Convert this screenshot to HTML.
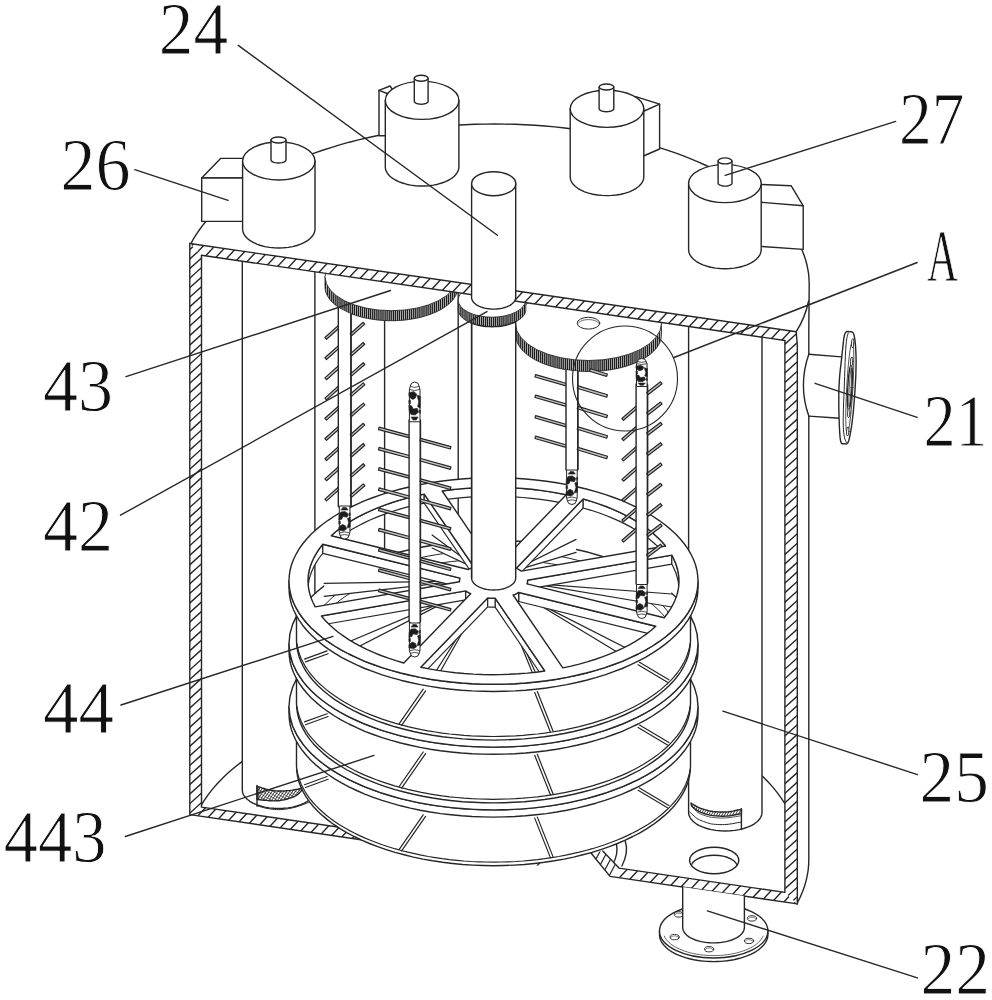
<!DOCTYPE html><html><head><meta charset="utf-8"><title>Figure</title><style>html,body{margin:0;padding:0;background:#fff}svg{display:block}</style></head><body><svg width="992" height="1000" viewBox="0 0 992 1000" stroke-linecap="round" stroke-linejoin="round" font-family="'Liberation Serif', 'DejaVu Serif', serif" fill="#111"><defs><clipPath id="c1"><path d="M257 786.3 L258.2 786.7 L259.9 787.2 L261.8 787.9 L264 788.5 L266.1 789.1 L268 789.6 L269.8 790 L271.5 790.3 L273.2 790.5 L274.9 790.8 L276.6 790.9 L278.4 791 L280.2 791 L282.1 791 L284 790.9 L285.9 790.8 L287.9 790.6 L290 790.4 L292.3 790.1 L294.9 789.6 L297.5 789.2 L300 788.7 L302.1 788.3 L303.6 788 L303.6 788 L303 788.7 L302.2 789.7 L301.3 790.9 L300.3 792.1 L299.1 793.3 L298 794.3 L296.8 795.1 L295.6 795.8 L294.4 796.5 L293 797.1 L291.6 797.7 L290 798.2 L288.3 798.7 L286.4 799.2 L284.4 799.7 L282.3 800.1 L280.3 800.5 L278.4 800.7 L276.6 800.8 L274.9 800.9 L273.2 800.9 L271.5 800.8 L269.8 800.7 L268 800.6 L266.1 800.4 L264 800.2 L261.9 800 L259.9 799.8 L258.2 799.5 L257 799.4Z"/></clipPath><clipPath id="c2"><path d="M257 786.3 L258.2 786.7 L259.9 787.2 L261.8 787.9 L264 788.5 L266.1 789.1 L268 789.6 L269.8 790 L271.5 790.3 L273.2 790.5 L274.9 790.8 L276.6 790.9 L278.4 791 L280.2 791 L282.1 791 L284 790.9 L285.9 790.8 L287.9 790.6 L290 790.4 L292.3 790.1 L294.9 789.6 L297.5 789.2 L300 788.7 L302.1 788.3 L303.6 788 L303.6 788 L303 788.7 L302.2 789.7 L301.3 790.9 L300.3 792.1 L299.1 793.3 L298 794.3 L296.8 795.1 L295.6 795.8 L294.4 796.5 L293 797.1 L291.6 797.7 L290 798.2 L288.3 798.7 L286.4 799.2 L284.4 799.7 L282.3 800.1 L280.3 800.5 L278.4 800.7 L276.6 800.8 L274.9 800.9 L273.2 800.9 L271.5 800.8 L269.8 800.7 L268 800.6 L266.1 800.4 L264 800.2 L261.9 800 L259.9 799.8 L258.2 799.5 L257 799.4Z"/></clipPath><clipPath id="c3"><path d="M691 803 L691.7 803.5 L692.7 804.1 L693.9 804.9 L695.3 805.7 L696.6 806.5 L698 807.2 L699.4 807.8 L700.8 808.4 L702.4 808.9 L703.9 809.4 L705.5 809.9 L707 810.3 L708.5 810.7 L710 811 L711.4 811.2 L712.9 811.5 L714.5 811.7 L716.2 811.8 L718 811.9 L719.9 812 L721.8 812 L723.9 812 L725.9 812 L728 811.8 L730.3 811.5 L732.8 811.1 L735.4 810.5 L737.9 810 L739.9 809.6 L741.4 809.3 L741.4 813.6 L739.9 813.9 L737.9 814.3 L735.4 814.8 L732.8 815.3 L730.3 815.7 L728 816 L725.9 816.1 L723.9 816.2 L721.8 816.2 L719.9 816.1 L718 816 L716.2 815.9 L714.5 815.8 L712.9 815.6 L711.4 815.4 L710 815.1 L708.5 814.8 L707 814.4 L705.5 814 L703.9 813.5 L702.3 812.9 L700.8 812.3 L699.4 811.7 L698 811 L696.7 810.2 L695.4 809.3 L694.2 808.3 L693.1 807.4 L692.2 806.6 L691.5 806Z"/></clipPath><clipPath id="c4"><path d="M738.8 860.5 L738.5 862.6 L737.6 864.6 L736.1 866.5 L734.1 868.3 L731.6 869.8 L728.7 871.2 L725.4 872.3 L721.8 873.1 L718 873.5 L714.2 873.7 L710.4 873.5 L706.6 873.1 L703 872.3 L699.7 871.2 L696.8 869.8 L694.3 868.3 L692.3 866.5 L690.8 864.6 L689.9 862.6 L689.6 860.5 L689.9 858.4 L690.8 856.4 L692.3 854.5 L694.3 852.7 L696.8 851.2 L699.7 849.8 L703 848.7 L706.6 847.9 L710.4 847.5 L714.2 847.3 L718 847.5 L721.8 847.9 L725.4 848.7 L728.7 849.8 L731.6 851.2 L734.1 852.7 L736.1 854.5 L737.6 856.4 L738.5 858.4 L738.8 860.5Z"/></clipPath><clipPath id="c5"><path d="M201.5 807.1 L784.9 892.4 L797.3 903.9 L189.8 814.6Z"/></clipPath><clipPath id="c6"><path d="M619 868.1 L602.8 850.9 L591 853 L610 876.4Z"/></clipPath><clipPath id="c7"><path d="M189.8 243.5 L201.5 255.2 L201.5 807.1 L189.8 814.6Z"/></clipPath><clipPath id="c8"><path d="M784.9 340.5 L796.2 331.7 L797.3 345 L797.3 903.9 L784.9 892.4Z"/></clipPath><clipPath id="c9"><path d="M680 581 L679.5 587.6 L678.2 594.1 L675.9 600.6 L672.8 607 L668.8 613.2 L663.9 619.3 L658.2 625.2 L651.7 630.9 L644.4 636.4 L636.4 641.5 L627.7 646.4 L618.3 651 L608.3 655.2 L597.8 659.1 L586.8 662.6 L575.3 665.7 L563.4 668.3 L551.1 670.6 L538.6 672.4 L525.9 673.8 L513 674.7 L500 675.1 L487 675.1 L474 674.7 L461.1 673.8 L448.4 672.4 L435.9 670.6 L423.6 668.3 L411.7 665.7 L400.3 662.6 L389.2 659.1 L378.7 655.2 L368.7 651 L359.3 646.4 L350.6 641.5 L342.6 636.4 L335.3 630.9 L328.8 625.2 L323.1 619.3 L318.2 613.2 L314.2 607 L311.1 600.6 L308.8 594.1 L307.5 587.6 L307 581 L307.5 574.4 L308.8 567.9 L311.1 561.4 L314.2 555 L318.2 548.8 L323.1 542.7 L328.8 536.8 L335.3 531.1 L342.6 525.6 L350.6 520.5 L359.3 515.6 L368.7 511 L378.7 506.8 L389.2 502.9 L400.2 499.4 L411.7 496.3 L423.6 493.7 L435.9 491.4 L448.4 489.6 L461.1 488.2 L474 487.3 L487 486.9 L500 486.9 L513 487.3 L525.9 488.2 L538.6 489.6 L551.1 491.4 L563.4 493.7 L575.3 496.3 L586.8 499.4 L597.8 502.9 L608.3 506.8 L618.3 511 L627.7 515.6 L636.4 520.5 L644.4 525.6 L651.7 531.1 L658.2 536.8 L663.9 542.7 L668.8 548.8 L672.8 555 L675.9 561.4 L678.2 567.9 L679.5 574.4 L680 581Z"/></clipPath><clipPath id="c10"><path d="M201.5 255.2 L784.9 340.7 L784.9 700 L201.5 700Z"/></clipPath><clipPath id="c11"><path d="M458 276.7 L457.9 278.5 L457.6 280.3 L457.2 282 L456.5 283.8 L455.7 285.5 L454.7 287.2 L453.6 288.9 L452.3 290.5 L450.8 292.1 L449.1 293.7 L447.3 295.2 L445.3 296.7 L443.2 298.1 L440.9 299.5 L438.5 300.7 L436 302 L433.3 303.1 L430.6 304.2 L427.7 305.2 L424.8 306.1 L421.7 307 L418.5 307.8 L415.3 308.4 L412 309 L408.7 309.5 L405.3 310 L401.9 310.3 L398.5 310.5 L395 310.7 L391.5 310.7 L388 310.7 L384.5 310.5 L381.1 310.3 L377.7 310 L374.3 309.5 L371 309 L367.7 308.4 L364.5 307.8 L361.3 307 L358.2 306.1 L355.3 305.2 L352.4 304.2 L349.7 303.1 L347 302 L344.5 300.7 L342.1 299.5 L339.8 298.1 L337.7 296.7 L335.7 295.2 L333.9 293.7 L332.2 292.1 L330.7 290.5 L329.4 288.9 L328.3 287.2 L327.3 285.5 L326.5 283.8 L325.8 282 L325.4 280.3 L325.1 278.5 L325 276.7 L325 286.7 L325.1 288.5 L325.4 290.3 L325.8 292 L326.5 293.8 L327.3 295.5 L328.3 297.2 L329.4 298.9 L330.7 300.5 L332.2 302.1 L333.9 303.7 L335.7 305.2 L337.7 306.7 L339.8 308.1 L342.1 309.5 L344.5 310.7 L347 312 L349.7 313.1 L352.4 314.2 L355.3 315.2 L358.2 316.1 L361.3 317 L364.5 317.8 L367.7 318.4 L371 319 L374.3 319.5 L377.7 320 L381.1 320.3 L384.5 320.5 L388 320.7 L391.5 320.7 L395 320.7 L398.5 320.5 L401.9 320.3 L405.3 320 L408.7 319.5 L412 319 L415.3 318.4 L418.5 317.8 L421.7 317 L424.8 316.1 L427.7 315.2 L430.6 314.2 L433.3 313.1 L436 312 L438.5 310.7 L440.9 309.5 L443.2 308.1 L445.3 306.7 L447.3 305.2 L449.1 303.7 L450.8 302.1 L452.3 300.5 L453.6 298.9 L454.7 297.2 L455.7 295.5 L456.5 293.8 L457.2 292 L457.6 290.3 L457.9 288.5 L458 286.7Z"/></clipPath><clipPath id="c12"><path d="M661.5 323.5 L661.4 325.4 L661.1 327.4 L660.6 329.3 L659.9 331.2 L659 333.1 L657.9 334.9 L656.7 336.8 L655.2 338.5 L653.5 340.3 L651.7 342 L649.7 343.7 L647.6 345.2 L645.2 346.8 L642.7 348.3 L640.1 349.7 L637.3 351 L634.4 352.3 L631.4 353.4 L628.3 354.5 L625 355.5 L621.6 356.5 L618.2 357.3 L614.7 358 L611.1 358.7 L607.4 359.2 L603.7 359.7 L599.9 360 L596.1 360.3 L592.3 360.4 L588.5 360.5 L584.7 360.4 L580.9 360.3 L577.1 360 L573.3 359.7 L569.6 359.2 L565.9 358.7 L562.3 358 L558.8 357.3 L555.4 356.5 L552 355.5 L548.7 354.5 L545.6 353.4 L542.6 352.3 L539.7 351 L536.9 349.7 L534.3 348.3 L531.8 346.8 L529.4 345.2 L527.3 343.7 L525.3 342 L523.5 340.3 L521.8 338.5 L520.3 336.8 L519.1 334.9 L518 333.1 L517.1 331.2 L516.4 329.3 L515.9 327.4 L515.6 325.4 L515.5 323.5 L515.5 334.5 L515.6 336.4 L515.9 338.4 L516.4 340.3 L517.1 342.2 L518 344.1 L519.1 345.9 L520.3 347.8 L521.8 349.5 L523.5 351.3 L525.3 353 L527.3 354.7 L529.4 356.2 L531.8 357.8 L534.3 359.3 L536.9 360.7 L539.7 362 L542.6 363.3 L545.6 364.4 L548.7 365.5 L552 366.5 L555.4 367.5 L558.8 368.3 L562.3 369 L565.9 369.7 L569.6 370.2 L573.3 370.7 L577.1 371 L580.9 371.3 L584.7 371.4 L588.5 371.5 L592.3 371.4 L596.1 371.3 L599.9 371 L603.7 370.7 L607.4 370.2 L611.1 369.7 L614.7 369 L618.2 368.3 L621.6 367.5 L625 366.5 L628.3 365.5 L631.4 364.4 L634.4 363.3 L637.3 362 L640.1 360.7 L642.7 359.3 L645.2 357.8 L647.6 356.2 L649.7 354.7 L651.7 353 L653.5 351.3 L655.2 349.5 L656.7 347.8 L657.9 345.9 L659 344.1 L659.9 342.2 L660.6 340.3 L661.1 338.4 L661.4 336.4 L661.5 334.5Z"/></clipPath><clipPath id="c13"><path d="M525.8 300 L525.8 300.9 L525.6 301.8 L525.4 302.7 L525.1 303.6 L524.6 304.5 L524.1 305.3 L523.6 306.2 L522.9 307 L522.1 307.8 L521.3 308.6 L520.3 309.4 L519.3 310.1 L518.3 310.8 L517.1 311.5 L515.9 312.2 L514.6 312.8 L513.3 313.4 L511.9 313.9 L510.4 314.4 L508.9 314.9 L507.3 315.3 L505.7 315.7 L504.1 316.1 L502.4 316.4 L500.7 316.6 L499 316.8 L497.3 317 L495.5 317.1 L493.8 317.2 L492 317.2 L490.2 317.2 L488.5 317.1 L486.7 317 L485 316.8 L483.3 316.6 L481.6 316.4 L479.9 316.1 L478.3 315.7 L476.7 315.3 L475.1 314.9 L473.6 314.4 L472.1 313.9 L470.7 313.4 L469.4 312.8 L468.1 312.2 L466.9 311.5 L465.7 310.8 L464.7 310.1 L463.7 309.4 L462.7 308.6 L461.9 307.8 L461.1 307 L460.4 306.2 L459.9 305.3 L459.4 304.5 L458.9 303.6 L458.6 302.7 L458.4 301.8 L458.2 300.9 L458.2 300 L458.2 309.5 L458.2 310.4 L458.4 311.3 L458.6 312.2 L458.9 313.1 L459.4 314 L459.9 314.8 L460.4 315.7 L461.1 316.5 L461.9 317.3 L462.7 318.1 L463.7 318.9 L464.7 319.6 L465.7 320.3 L466.9 321 L468.1 321.7 L469.4 322.3 L470.7 322.9 L472.1 323.4 L473.6 323.9 L475.1 324.4 L476.7 324.8 L478.3 325.2 L479.9 325.6 L481.6 325.9 L483.3 326.1 L485 326.3 L486.7 326.5 L488.5 326.6 L490.2 326.7 L492 326.7 L493.8 326.7 L495.5 326.6 L497.3 326.5 L499 326.3 L500.7 326.1 L502.4 325.9 L504.1 325.6 L505.7 325.2 L507.3 324.8 L508.9 324.4 L510.4 323.9 L511.9 323.4 L513.3 322.9 L514.6 322.3 L515.9 321.7 L517.1 321 L518.3 320.3 L519.3 319.6 L520.3 318.9 L521.3 318.1 L522.1 317.3 L522.9 316.5 L523.6 315.7 L524.1 314.8 L524.6 314 L525.1 313.1 L525.4 312.2 L525.6 311.3 L525.8 310.4 L525.8 309.5Z"/></clipPath><clipPath id="c14"><path d="M189.8 243.5 L796.2 331.7 L784.9 340.5 L201.5 255.2Z"/></clipPath></defs><rect width="992" height="1000" fill="#fff"/><path d="M190.9 243.7 L193.6 238.7 L196.6 233.8 L200 229 L203.6 224.2 L207.5 219.5 L211.7 214.8 L216.2 210.2 L221 205.7 L226.1 201.3 L231.4 196.9 L237 192.7 L242.9 188.5 L249.1 184.4 L255.5 180.5 L262.1 176.6 L269 172.8 L276.1 169.2 L283.5 165.7 L291 162.3 L298.8 159 L306.8 155.9 L314.9 152.9 L323.3 150 L331.8 147.3 L340.5 144.7 L349.3 142.2 L358.3 139.9 L367.5 137.8 L376.8 135.8 L386.2 133.9 L395.7 132.2 L405.3 130.7 L415 129.3 L424.8 128 L434.6 127 L444.5 126.1 L454.5 125.3 L464.5 124.8 L474.6 124.3 L484.6 124.1 L494.7 124 L504.8 124.1 L514.9 124.3 L524.9 124.7 L534.9 125.3 L544.9 126 L554.8 126.9 L564.7 128 L574.5 129.2 L584.2 130.6 L593.8 132.1 L603.3 133.8 L612.7 135.7 L622 137.7 L631.1 139.8 L640.2 142.1 L649 144.5 L657.7 147.1 L666.3 149.9 L674.6 152.7 L682.8 155.7 L690.8 158.9 L698.6 162.1 L706.1 165.5 L713.5 169 L720.6 172.6 L727.5 176.4 L734.2 180.2 L740.6 184.2 L746.7 188.3 L752.6 192.4 L758.3 196.7 L763.6 201 L768.7 205.4 L773.5 210 L778 214.5 L782.3 219.2 L786.2 223.9 L789.8 228.7 L793.2 233.6 L796.2 238.5 L798.9 243.4 L801.3 248.4 L803.4 253.4 L805.2 258.4 L806.6 263.5 L807.7 268.6 L808.6 273.7 L809 278.9 L809.2 284 L808.8 330 L808.8 858 L808.8 859.9 L808.6 865.2 L808.1 870.5 L807.2 875.8 L806 881.1 L804.5 886.3 L802.6 891.5 L800.4 896.7 L797.8 901.9 L797.3 903.9" fill="none" stroke="#262626" stroke-width="1.4" />
<path d="M796.2 331.7 Q805 318 808.6 301" fill="none" stroke="#262626" stroke-width="1.4" />
<path d="M200.3 806.8 L203.9 800.9 L207.9 795.1 L212.3 789.4 L217.2 783.8 L222.5 778.2 L228.2 772.8 L234.4 767.5 L240.9 762.4 L247.9 757.3 L255.2 752.4 L262.9 747.7 L270.9 743.1 L279.3 738.7 L288.1 734.5 L297.1 730.4 L306.5 726.6 L316.2 722.9 L326.1 719.4 L336.3 716.1 L346.7 713.1 L357.4 710.2 L368.2 707.6 L379.3 705.1 L390.6 703 L402 701 L413.5 699.3 L425.2 697.8 L437 696.5 L448.9 695.5 L460.8 694.7 L472.8 694.2 L484.8 693.9 L496.9 693.8 L508.9 694 L520.9 694.4 L532.9 695.1 L544.8 696 L556.6 697.2 L568.3 698.6 L579.9 700.2 L591.4 702.1 L602.7 704.1 L613.9 706.5 L624.8 709 L635.6 711.8 L646.1 714.7 L656.4 717.9 L666.5 721.3 L676.3 724.9 L685.8 728.7 L695 732.7 L703.8 736.8 L712.4 741.2 L720.6 745.7 L728.5 750.3 L735.9 755.1 L743.1 760.1 L749.8 765.2 L756.1 770.5 L762 775.8 L767.5 781.3 L772.6 786.9 L777.2 792.6 L781.4 798.3 L785.2 804.2" fill="none" stroke="#262626" stroke-width="1.4" />
<path d="M384.6 282L384.6 560" stroke="#262626" stroke-width="1.4" fill="none" />
<path d="M458.2 292.8L458.2 575" stroke="#262626" stroke-width="1.4" fill="none" />
<path d="M242.3 261.2 L242.3 790 L242.3 790 L242.6 792.4 L243.5 794.8 L245.1 797.1 L247.2 799.2 L249.8 801.3 L252.9 803.1 L256.5 804.7 L260.5 806 L264.7 807.1 L269.2 807.9 L273.9 808.3 L278.6 808.5 L283.3 808.3 L288 807.9 L292.5 807.1 L296.8 806 L300.7 804.7 L304.3 803.1 L307.4 801.3 L310 799.2 L312.1 797.1 L313.7 794.8 L314.6 792.4 L314.9 790 L314.9 271.8" fill="#fff" stroke="#262626" stroke-width="1.4" />
<path d="M688.6 326.6 L688.6 812.5 L688.6 812.5 L688.9 814.9 L689.9 817.3 L691.4 819.6 L693.5 821.8 L696.2 823.8 L699.3 825.6 L703 827.2 L706.9 828.5 L711.3 829.6 L715.8 830.4 L720.5 830.8 L725.3 831 L730.1 830.8 L734.8 830.4 L739.3 829.6 L743.6 828.5 L747.6 827.2 L751.3 825.6 L754.4 823.8 L757.1 821.8 L759.2 819.6 L760.7 817.3 L761.7 814.9 L762 812.5 L762 337.3" fill="#fff" stroke="#262626" stroke-width="1.4" />
<path d="M257 786.3 L258.2 786.7 L259.9 787.2 L261.8 787.9 L264 788.5 L266.1 789.1 L268 789.6 L269.8 790 L271.5 790.3 L273.2 790.5 L274.9 790.8 L276.6 790.9 L278.4 791 L280.2 791 L282.1 791 L284 790.9 L285.9 790.8 L287.9 790.6 L290 790.4 L292.3 790.1 L294.9 789.6 L297.5 789.2 L300 788.7 L302.1 788.3 L303.6 788 L303.6 788 L303 788.7 L302.2 789.7 L301.3 790.9 L300.3 792.1 L299.1 793.3 L298 794.3 L296.8 795.1 L295.6 795.8 L294.4 796.5 L293 797.1 L291.6 797.7 L290 798.2 L288.3 798.7 L286.4 799.2 L284.4 799.7 L282.3 800.1 L280.3 800.5 L278.4 800.7 L276.6 800.8 L274.9 800.9 L273.2 800.9 L271.5 800.8 L269.8 800.7 L268 800.6 L266.1 800.4 L264 800.2 L261.9 800 L259.9 799.8 L258.2 799.5 L257 799.4Z" fill="#fff" stroke="none" stroke-width="0" />
<path d="M219.1 837.7L300.8 721.1M221.1 839.1L302.8 722.4M223.1 840.5L304.8 723.8M225 841.8L306.7 725.2M227 843.2L308.7 726.6M229 844.6L310.7 727.9M230.9 846L312.6 729.3M232.9 847.3L314.6 730.7M234.9 848.7L316.6 732.1M236.8 850.1L318.5 733.4M238.8 851.5L320.5 734.8M240.8 852.8L322.5 736.2M242.7 854.2L324.4 737.6M244.7 855.6L326.4 738.9M246.7 857L328.3 740.3M248.6 858.3L330.3 741.7M250.6 859.7L332.3 743.1M252.6 861.1L334.2 744.5M254.5 862.5L336.2 745.8M256.5 863.9L338.2 747.2M258.5 865.2L340.1 748.6" stroke="#262626" stroke-width="0.9" fill="none" clip-path="url(#c1)"/>
<path d="M257 786.3 L258.2 786.7 L259.9 787.2 L261.8 787.9 L264 788.5 L266.1 789.1 L268 789.6 L269.8 790 L271.5 790.3 L273.2 790.5 L274.9 790.8 L276.6 790.9 L278.4 791 L280.2 791 L282.1 791 L284 790.9 L285.9 790.8 L287.9 790.6 L290 790.4 L292.3 790.1 L294.9 789.6 L297.5 789.2 L300 788.7 L302.1 788.3 L303.6 788 L303.6 788 L303 788.7 L302.2 789.7 L301.3 790.9 L300.3 792.1 L299.1 793.3 L298 794.3 L296.8 795.1 L295.6 795.8 L294.4 796.5 L293 797.1 L291.6 797.7 L290 798.2 L288.3 798.7 L286.4 799.2 L284.4 799.7 L282.3 800.1 L280.3 800.5 L278.4 800.7 L276.6 800.8 L274.9 800.9 L273.2 800.9 L271.5 800.8 L269.8 800.7 L268 800.6 L266.1 800.4 L264 800.2 L261.9 800 L259.9 799.8 L258.2 799.5 L257 799.4Z" fill="none" stroke="#262626" stroke-width="1.4" />
<path d="M229 740L352.3 811.2M227.6 742.5L350.9 813.7M226.2 744.9L349.5 816.1M224.8 747.3L348.1 818.5M223.4 749.7L346.7 820.9M222 752.2L345.3 823.4M220.6 754.6L343.9 825.8M219.2 757L342.5 828.2M217.8 759.4L341.1 830.6M216.4 761.9L339.7 833.1M215 764.3L338.3 835.5M213.6 766.7L336.9 837.9M212.2 769.1L335.5 840.3M210.8 771.6L334.1 842.8" stroke="#262626" stroke-width="0.6" fill="none" clip-path="url(#c2)"/>
<path d="M257 785.5 L257 806" fill="none" stroke="#262626" stroke-width="1.4" />
<path d="M258.8 787 L258.8 799.5" fill="none" stroke="#262626" stroke-width="0.8" />
<path d="M257 805.8 L258.2 806.1 L259.8 806.6 L261.7 807.1 L263.8 807.7 L265.9 808.2 L268 808.6 L270 808.9 L272.1 809.2 L274.2 809.4 L276.4 809.6 L278.6 809.7 L280.9 809.6 L283.3 809.4 L285.8 809.1 L288.4 808.7 L291 808.2 L293.5 807.6 L296 807 L298.5 806.2 L301.2 805.3 L303.9 804.3 L306.3 803.4 L308.4 802.6 L309.9 802" fill="none" stroke="#262626" stroke-width="1" />
<path d="M691 803 L691.7 803.5 L692.7 804.1 L693.9 804.9 L695.3 805.7 L696.6 806.5 L698 807.2 L699.4 807.8 L700.8 808.4 L702.4 808.9 L703.9 809.4 L705.5 809.9 L707 810.3 L708.5 810.7 L710 811 L711.4 811.2 L712.9 811.5 L714.5 811.7 L716.2 811.8 L718 811.9 L719.9 812 L721.8 812 L723.9 812 L725.9 812 L728 811.8 L730.3 811.5 L732.8 811.1 L735.4 810.5 L737.9 810 L739.9 809.6 L741.4 809.3 L741.4 813.6 L739.9 813.9 L737.9 814.3 L735.4 814.8 L732.8 815.3 L730.3 815.7 L728 816 L725.9 816.1 L723.9 816.2 L721.8 816.2 L719.9 816.1 L718 816 L716.2 815.9 L714.5 815.8 L712.9 815.6 L711.4 815.4 L710 815.1 L708.5 814.8 L707 814.4 L705.5 814 L703.9 813.5 L702.3 812.9 L700.8 812.3 L699.4 811.7 L698 811 L696.7 810.2 L695.4 809.3 L694.2 808.3 L693.1 807.4 L692.2 806.6 L691.5 806Z" fill="#fff" stroke="none" stroke-width="0" />
<path d="M656.1 859.9L729.8 732.4M658.1 861.1L731.7 733.6M660.1 862.2L733.7 734.7M662.1 863.4L735.7 735.9M664.1 864.5L737.7 737M666.1 865.7L739.7 738.2M668.1 866.8L741.7 739.3M670.1 868L743.7 740.5M672.1 869.1L745.7 741.6M674.1 870.3L747.7 742.8M676.1 871.4L749.7 743.9M678.1 872.6L751.7 745.1M680 873.7L753.7 746.2M682 874.9L755.6 747.4M684 876L757.6 748.5M686 877.2L759.6 749.7M688 878.3L761.6 750.8M690 879.5L763.6 752M692 880.6L765.6 753.1M694 881.8L767.6 754.3M696 882.9L769.6 755.4M698 884.1L771.6 756.6M700 885.2L773.6 757.7" stroke="#262626" stroke-width="0.9" fill="none" clip-path="url(#c3)"/>
<path d="M691 803 L691.7 803.5 L692.7 804.1 L693.9 804.9 L695.3 805.7 L696.6 806.5 L698 807.2 L699.4 807.8 L700.8 808.4 L702.4 808.9 L703.9 809.4 L705.5 809.9 L707 810.3 L708.5 810.7 L710 811 L711.4 811.2 L712.9 811.5 L714.5 811.7 L716.2 811.8 L718 811.9 L719.9 812 L721.8 812 L723.9 812 L725.9 812 L728 811.8 L730.3 811.5 L732.8 811.1 L735.4 810.5 L737.9 810 L739.9 809.6 L741.4 809.3 L741.4 813.6 L739.9 813.9 L737.9 814.3 L735.4 814.8 L732.8 815.3 L730.3 815.7 L728 816 L725.9 816.1 L723.9 816.2 L721.8 816.2 L719.9 816.1 L718 816 L716.2 815.9 L714.5 815.8 L712.9 815.6 L711.4 815.4 L710 815.1 L708.5 814.8 L707 814.4 L705.5 814 L703.9 813.5 L702.3 812.9 L700.8 812.3 L699.4 811.7 L698 811 L696.7 810.2 L695.4 809.3 L694.2 808.3 L693.1 807.4 L692.2 806.6 L691.5 806Z" fill="none" stroke="#262626" stroke-width="1.4" />
<path d="M741.4 808.8 L741.4 829.5" fill="none" stroke="#262626" stroke-width="1.4" />
<path d="M689.7 812 L690.5 812.7 L691.6 813.8 L692.9 815 L694.2 816.3 L695.7 817.5 L697 818.5 L698.3 819.3 L699.6 819.9 L700.9 820.5 L702.3 821 L703.6 821.5 L705 822 L706.3 822.5 L707.6 822.9 L709 823.3 L710.4 823.7 L711.9 824 L713.6 824.2 L715.5 824.4 L717.7 824.5 L719.9 824.6 L722.3 824.6 L724.7 824.5 L727 824.4 L729.5 824.1 L732.3 823.7 L735 823.2 L737.6 822.7 L739.8 822.3 L741.4 822" fill="none" stroke="#262626" stroke-width="1" />
<path d="M692 806.5 L692.6 807.2 L693.4 808.1 L694.4 809.3 L695.6 810.4 L696.8 811.6 L698 812.5 L699.3 813.3 L700.8 814 L702.3 814.7 L703.9 815.3 L705.5 815.8 L707 816.3 L708.5 816.7 L710 817 L711.4 817.3 L712.9 817.5 L714.5 817.7 L716.2 817.8 L718 817.9 L719.9 818 L721.8 818 L723.9 818 L725.9 817.9 L728 817.8 L730.3 817.5 L732.8 817.1 L735.4 816.7 L737.9 816.3 L739.9 815.9 L741.4 815.6" fill="none" stroke="#262626" stroke-width="0.8" />
<ellipse cx="714.2" cy="860.5" rx="24.6" ry="13.2" fill="#fff" stroke="#262626" stroke-width="1.4" />
<ellipse cx="714.2" cy="867.5" rx="23.4" ry="12.2" fill="none" stroke="#262626" stroke-width="1.4" clip-path="url(#c4)"/>
<path d="M616.4 843.5 Q618.5 854 613 864" fill="none" stroke="#262626" stroke-width="1.4" />
<path d="M625.2 841 Q629 852 621.9 866" fill="none" stroke="#262626" stroke-width="1.4" />
<path d="M201.5 807.1 L784.9 892.4 L797.3 903.9 L189.8 814.6Z" fill="#fff" stroke="none" stroke-width="0" />
<path d="M-184 1200.3L790.2 155.5M-177.8 1206.1L796.5 161.3M-171.5 1212L802.7 167.2M-165.3 1217.8L809 173M-159 1223.6L815.3 178.8M-152.8 1229.4L821.5 184.7M-146.5 1235.3L827.8 190.5M-140.3 1241.1L834 196.3M-134 1246.9L840.3 202.2M-127.8 1252.8L846.5 208M-121.5 1258.6L852.8 213.8M-115.3 1264.4L859 219.6M-109 1270.3L865.3 225.5M-102.7 1276.1L871.5 231.3M-96.5 1281.9L877.8 237.1M-90.2 1287.8L884 243M-84 1293.6L890.3 248.8M-77.7 1299.4L896.5 254.6M-71.5 1305.2L902.8 260.5M-65.2 1311.1L909.1 266.3M-59 1316.9L915.3 272.1M-52.7 1322.7L921.6 278M-46.5 1328.6L927.8 283.8M-40.2 1334.4L934.1 289.6M-34 1340.2L940.3 295.4M-27.7 1346.1L946.6 301.3M-21.5 1351.9L952.8 307.1M-15.2 1357.7L959.1 312.9M-9 1363.6L965.3 318.8M-2.7 1369.4L971.6 324.6M3.6 1375.2L977.8 330.4M9.8 1381.1L984.1 336.3M16.1 1386.9L990.3 342.1M22.3 1392.7L996.6 347.9M28.6 1398.5L1002.8 353.8M34.8 1404.4L1009.1 359.6M41.1 1410.2L1015.4 365.4M47.3 1416L1021.6 371.3M53.6 1421.9L1027.9 377.1M59.8 1427.7L1034.1 382.9M66.1 1433.5L1040.4 388.7M72.3 1439.4L1046.6 394.6M78.6 1445.2L1052.9 400.4M84.8 1451L1059.1 406.2M91.1 1456.9L1065.4 412.1M97.4 1462.7L1071.6 417.9M103.6 1468.5L1077.9 423.7M109.9 1474.4L1084.1 429.6M116.1 1480.2L1090.4 435.4M122.4 1486L1096.6 441.2M128.6 1491.8L1102.9 447.1M134.9 1497.7L1109.1 452.9M141.1 1503.5L1115.4 458.7M147.4 1509.3L1121.7 464.6M153.6 1515.2L1127.9 470.4M159.9 1521L1134.2 476.2M166.1 1526.8L1140.4 482M172.4 1532.7L1146.7 487.9M178.6 1538.5L1152.9 493.7M184.9 1544.3L1159.2 499.5M191.1 1550.2L1165.4 505.4" stroke="#262626" stroke-width="1.4" fill="none" clip-path="url(#c5)"/>
<path d="M540 855.8 L619 867.3 L602.8 850.9 L591 853 L575 853 L540 845Z" fill="#fff" stroke="#262626" stroke-width="0" />
<path d="M540 855.6 L613.5 866.3 L610 877.4 L540 867.1Z" fill="#fff" stroke="#262626" stroke-width="0" />
<path d="M619 868.1 L602.8 850.9 L591 853 L610 876.4Z" fill="#fff" stroke="none" stroke-width="0" />
<path d="M554.8 908.8L614.4 796.7M560.5 911.9L620.1 799.8M566.3 914.9L625.8 802.8M572 918L631.6 805.9M577.7 921L637.3 808.9M583.5 924.1L643.1 812M589.2 927.1L648.8 815" stroke="#262626" stroke-width="1.2" fill="none" clip-path="url(#c6)"/>
<path d="M784.9 892.4 L619 868.1 L602.8 850.9" fill="none" stroke="#262626" stroke-width="1.4" />
<path d="M797.3 903.9 L610 876.4 L591 853" fill="none" stroke="#262626" stroke-width="1.4" />
<path d="M189.8 243.5 L201.5 255.2 L201.5 807.1 L189.8 814.6Z" fill="#fff" stroke="none" stroke-width="0" />
<path d="M-391.3 763.2L489.8 -30.2M-386.6 768.4L494.6 -24.9M-381.8 773.7L499.3 -19.7M-377.1 779L504.1 -14.4M-372.3 784.3L508.8 -9.1M-367.6 789.5L513.6 -3.8M-362.8 794.8L518.3 1.4M-358.1 800.1L523.1 6.7M-353.3 805.4L527.8 12M-348.6 810.7L532.6 17.3M-343.8 815.9L537.3 22.6M-339.1 821.2L542.1 27.8M-334.3 826.5L546.8 33.1M-329.6 831.8L551.6 38.4M-324.8 837L556.3 43.7M-320.1 842.3L561.1 48.9M-315.3 847.6L565.8 54.2M-310.6 852.9L570.6 59.5M-305.8 858.1L575.3 64.8M-301.1 863.4L580.1 70M-296.3 868.7L584.8 75.3M-291.5 874L589.6 80.6M-286.8 879.2L594.3 85.9M-282 884.5L599.1 91.1M-277.3 889.8L603.8 96.4M-272.5 895.1L608.6 101.7M-267.8 900.3L613.3 107M-263 905.6L618.1 112.2M-258.3 910.9L622.8 117.5M-253.5 916.2L627.6 122.8M-248.8 921.5L632.3 128.1M-244 926.7L637.1 133.4M-239.3 932L641.8 138.6M-234.5 937.3L646.6 143.9M-229.8 942.6L651.3 149.2M-225 947.8L656.1 154.5M-220.3 953.1L660.8 159.7M-215.5 958.4L665.6 165M-210.8 963.7L670.3 170.3M-206 968.9L675.1 175.6M-201.3 974.2L679.8 180.8M-196.5 979.5L684.6 186.1M-191.8 984.8L689.4 191.4M-187 990L694.1 196.7M-182.3 995.3L698.9 201.9M-177.5 1000.6L703.6 207.2M-172.8 1005.9L708.4 212.5M-168 1011.2L713.1 217.8M-163.3 1016.4L717.9 223.1M-158.5 1021.7L722.6 228.3M-153.8 1027L727.4 233.6M-149 1032.3L732.1 238.9M-144.3 1037.5L736.9 244.2M-139.5 1042.8L741.6 249.4M-134.8 1048.1L746.4 254.7M-130 1053.4L751.1 260M-125.3 1058.6L755.9 265.3M-120.5 1063.9L760.6 270.5M-115.8 1069.2L765.4 275.8M-111 1074.5L770.1 281.1M-106.3 1079.7L774.9 286.4M-101.5 1085L779.6 291.6" stroke="#262626" stroke-width="1.4" fill="none" clip-path="url(#c7)"/>
<path d="M784.9 340.5 L796.2 331.7 L797.3 345 L797.3 903.9 L784.9 892.4Z" fill="#fff" stroke="none" stroke-width="0" />
<path d="M200.9 850.9L1084.6 55.2M205.7 856.2L1089.4 60.5M210.4 861.5L1094.1 65.8M215.2 866.8L1098.9 71M219.9 872L1103.6 76.3M224.7 877.3L1108.4 81.6M229.4 882.6L1113.1 86.9M234.2 887.9L1117.9 92.1M238.9 893.1L1122.6 97.4M243.7 898.4L1127.4 102.7M248.4 903.7L1132.2 108M253.2 909L1136.9 113.3M257.9 914.2L1141.7 118.5M262.7 919.5L1146.4 123.8M267.4 924.8L1151.2 129.1M272.2 930.1L1155.9 134.4M276.9 935.3L1160.7 139.6M281.7 940.6L1165.4 144.9M286.4 945.9L1170.2 150.2M291.2 951.2L1174.9 155.5M295.9 956.4L1179.7 160.7M300.7 961.7L1184.4 166M305.4 967L1189.2 171.3M310.2 972.3L1193.9 176.6M314.9 977.6L1198.7 181.8M319.7 982.8L1203.4 187.1M324.4 988.1L1208.2 192.4M329.2 993.4L1212.9 197.7M333.9 998.7L1217.7 203M338.7 1003.9L1222.4 208.2M343.4 1009.2L1227.2 213.5M348.2 1014.5L1231.9 218.8M352.9 1019.8L1236.7 224.1M357.7 1025L1241.4 229.3M362.4 1030.3L1246.2 234.6M367.2 1035.6L1250.9 239.9M372 1040.9L1255.7 245.2M376.7 1046.1L1260.4 250.4M381.5 1051.4L1265.2 255.7M386.2 1056.7L1269.9 261M391 1062L1274.7 266.3M395.7 1067.3L1279.4 271.5M400.5 1072.5L1284.2 276.8M405.2 1077.8L1288.9 282.1M410 1083.1L1293.7 287.4M414.7 1088.4L1298.4 292.6M419.5 1093.6L1303.2 297.9M424.2 1098.9L1307.9 303.2M429 1104.2L1312.7 308.5M433.7 1109.5L1317.4 313.8M438.5 1114.7L1322.2 319M443.2 1120L1326.9 324.3M448 1125.3L1331.7 329.6M452.7 1130.6L1336.4 334.9M457.5 1135.8L1341.2 340.1M462.2 1141.1L1345.9 345.4M467 1146.4L1350.7 350.7M471.7 1151.7L1355.4 356M476.5 1156.9L1360.2 361.2M481.2 1162.2L1364.9 366.5M486 1167.5L1369.7 371.8M490.7 1172.8L1374.4 377.1" stroke="#262626" stroke-width="1.4" fill="none" clip-path="url(#c8)"/>
<path d="M189.8 243.5 L189.8 814.6 L500 860.2" fill="none" stroke="#262626" stroke-width="1.4" />
<path d="M201.5 255.2 L201.5 807.1 L500 850.7" fill="none" stroke="#262626" stroke-width="1.4" />
<path d="M796.2 331.7 L797.3 345 L797.3 903.9" fill="none" stroke="#262626" stroke-width="1.4" />
<path d="M784.9 340.5 L784.9 892.4" fill="none" stroke="#262626" stroke-width="1.4" />
<path d="M690.5 713.8 L690.2 719 L689.4 724.2 L688.1 729.4 L686.2 734.5 L683.8 739.5 L680.9 744.5 L677.4 749.5 L673.5 754.3 L669 759 L664.1 763.5 L658.7 768 L652.9 772.3 L646.6 776.4 L639.9 780.4 L632.8 784.1 L625.3 787.7 L617.5 791.1 L609.3 794.3 L600.8 797.2 L592 800 L582.9 802.4 L573.6 804.7 L564.1 806.7 L554.4 808.4 L544.5 809.9 L534.5 811.1 L524.3 812.1 L514.1 812.7 L503.8 813.1 L493.5 813.3 L483.2 813.1 L472.9 812.7 L462.7 812.1 L452.5 811.1 L442.5 809.9 L432.6 808.4 L422.9 806.7 L413.4 804.7 L404.1 802.4 L395 800 L386.2 797.2 L377.7 794.3 L369.5 791.1 L361.7 787.7 L354.2 784.1 L347.1 780.4 L340.4 776.4 L334.1 772.3 L328.3 768 L322.9 763.5 L318 759 L313.5 754.3 L309.6 749.5 L306.1 744.5 L303.2 739.5 L300.8 734.5 L298.9 729.4 L297.6 724.2 L296.8 719 L296.5 713.8 L296.5 766.2 L296.8 771.4 L297.6 776.6 L298.9 781.8 L300.8 786.9 L303.2 791.9 L306.1 796.9 L309.6 801.9 L313.5 806.7 L318 811.4 L322.9 815.9 L328.3 820.4 L334.1 824.7 L340.4 828.8 L347.1 832.8 L354.2 836.5 L361.7 840.1 L369.5 843.5 L377.7 846.7 L386.2 849.6 L395 852.4 L404.1 854.8 L413.4 857.1 L422.9 859.1 L432.6 860.8 L442.5 862.3 L452.5 863.5 L462.7 864.5 L472.9 865.1 L483.2 865.5 L493.5 865.7 L503.8 865.5 L514.1 865.1 L524.3 864.5 L534.5 863.5 L544.5 862.3 L554.4 860.8 L564.1 859.1 L573.6 857.1 L582.9 854.8 L592 852.4 L600.8 849.6 L609.3 846.7 L617.5 843.5 L625.3 840.1 L632.8 836.5 L639.9 832.8 L646.6 828.8 L652.9 824.7 L658.7 820.4 L664.1 815.9 L669 811.4 L673.5 806.7 L677.4 801.9 L680.9 796.9 L683.8 791.9 L686.2 786.9 L688.1 781.8 L689.4 776.6 L690.2 771.4 L690.5 766.2Z" fill="#fff" stroke="#262626" stroke-width="1.4" />
<path d="M690 769.5 L689.4 773.3 L688.4 777 L687.2 780.6 L685.8 784.3 L684 787.9 L682 791.5 L679.7 795.1 L677.2 798.6 L674.4 802 L671.3 805.4 L668 808.8 L664.4 812 L660.7 815.2 L656.6 818.4 L652.4 821.4 L647.9 824.4 L643.2 827.3 L638.3 830.1 L633.2 832.8 L627.9 835.4 L622.4 837.9 L616.7 840.2 L610.8 842.5 L604.8 844.7 L598.6 846.7 L592.3 848.7 L585.8 850.5 L579.2 852.2 L572.5 853.7 L565.7 855.2 L558.8 856.5 L551.8 857.6 L544.7 858.7 L537.5 859.6 L530.2 860.3 L523 861 L515.6 861.5 L508.3 861.8 L500.9 862 L493.5 862.1 L486.1 862 L478.7 861.8 L471.4 861.5 L464 861 L456.8 860.3 L449.5 859.6 L442.3 858.7 L435.2 857.6 L428.2 856.5 L421.3 855.2 L414.5 853.7 L407.8 852.2 L401.2 850.5 L394.7 848.7 L388.4 846.7 L382.2 844.7 L376.2 842.5 L370.3 840.2 L364.6 837.9 L359.1 835.4 L353.8 832.8 L348.7 830.1 L343.8 827.3 L339.1 824.4 L334.6 821.4 L330.4 818.4 L326.3 815.2 L322.6 812 L319 808.8 L315.7 805.4 L312.6 802 L309.8 798.6 L307.3 795.1 L305 791.5 L303 787.9 L301.2 784.3 L299.8 780.6 L298.6 777 L297.6 773.3 L297 769.5" fill="none" stroke="#262626" stroke-width="1.2" />
<path d="M328.1 779.3L305.5 787.5" stroke="#262626" stroke-width="1.2" fill="none" />
<path d="M327.1 776.5L304.5 784.7" stroke="#262626" stroke-width="1.2" fill="none" />
<path d="M425.6 816.4L401.6 850.9" stroke="#262626" stroke-width="1.2" fill="none" />
<path d="M423.2 814.8L399.2 849.3" stroke="#262626" stroke-width="1.2" fill="none" />
<path d="M537.3 817.1L553 856.6" stroke="#262626" stroke-width="1.2" fill="none" />
<path d="M534.7 818.1L550.4 857.6" stroke="#262626" stroke-width="1.2" fill="none" />
<path d="M639.5 787.9L668.9 805.4" stroke="#262626" stroke-width="1.2" fill="none" />
<path d="M638.1 790.3L667.5 807.8" stroke="#262626" stroke-width="1.2" fill="none" />
<path d="M289 713.8 L289.3 719.2 L290.1 724.6 L291.5 730 L293.5 735.3 L296 740.5 L299 745.7 L302.6 750.8 L306.7 755.8 L311.3 760.7 L316.4 765.4 L322 770 L328.1 774.5 L334.6 778.8 L341.5 782.9 L348.9 786.8 L356.7 790.5 L364.8 794.1 L373.3 797.3 L382.1 800.4 L391.3 803.2 L400.7 805.8 L410.3 808.1 L420.2 810.2 L430.3 812 L440.6 813.6 L451 814.8 L461.5 815.8 L472.1 816.5 L482.8 816.9 L493.5 817.1 L504.2 816.9 L514.9 816.5 L525.5 815.8 L536 814.8 L546.4 813.6 L556.7 812 L566.8 810.2 L576.7 808.1 L586.3 805.8 L595.8 803.2 L604.9 800.4 L613.7 797.3 L622.2 794.1 L630.3 790.5 L638.1 786.8 L645.5 782.9 L652.4 778.8 L658.9 774.5 L665 770 L670.6 765.4 L675.7 760.7 L680.3 755.8 L684.4 750.8 L688 745.7 L691 740.5 L693.5 735.3 L695.5 730 L696.9 724.6 L697.7 719.2 L698 713.8 L698 706.6 L697.7 712 L696.9 717.4 L695.5 722.8 L693.5 728.1 L691 733.3 L688 738.5 L684.4 743.6 L680.3 748.6 L675.7 753.5 L670.6 758.2 L665 762.8 L658.9 767.3 L652.4 771.6 L645.5 775.7 L638.1 779.6 L630.3 783.3 L622.2 786.9 L613.7 790.1 L604.9 793.2 L595.8 796 L586.3 798.6 L576.7 800.9 L566.8 803 L556.7 804.8 L546.4 806.4 L536 807.6 L525.5 808.6 L514.9 809.3 L504.2 809.7 L493.5 809.9 L482.8 809.7 L472.1 809.3 L461.5 808.6 L451 807.6 L440.6 806.4 L430.3 804.8 L420.2 803 L410.3 800.9 L400.7 798.6 L391.3 796 L382.1 793.2 L373.3 790.1 L364.8 786.9 L356.7 783.3 L348.9 779.6 L341.5 775.7 L334.6 771.6 L328.1 767.3 L322 762.8 L316.4 758.2 L311.3 753.5 L306.7 748.6 L302.6 743.6 L299 738.5 L296 733.3 L293.5 728.1 L291.5 722.8 L290.1 717.4 L289.3 712 L289 706.6Z" fill="#fff" stroke="#262626" stroke-width="1.4" />
<ellipse cx="493.5" cy="706.6" rx="204.5" ry="103.3" fill="#fff" stroke="#262626" stroke-width="1.4" />
<path d="M308 706.6 L308.3 701.7 L309 696.8 L310.3 691.9 L312.1 687.1 L314.3 682.4 L317.1 677.7 L320.3 673 L324 668.5 L328.2 664.1 L332.9 659.8 L337.9 655.6 L343.4 651.5 L349.3 647.6 L355.6 643.9 L362.3 640.4 L369.4 637 L376.8 633.8 L384.5 630.8 L392.5 628 L400.7 625.5 L409.3 623.1 L418.1 621 L427 619.1 L436.2 617.5 L445.5 616.1 L454.9 615 L464.5 614.1 L474.1 613.4 L483.8 613.1 L493.5 612.9 L503.2 613.1 L512.9 613.4 L522.5 614.1 L532.1 615 L541.5 616.1 L550.8 617.5 L560 619.1 L568.9 621 L577.7 623.1 L586.2 625.5 L594.5 628 L602.5 630.8 L610.2 633.8 L617.6 637 L624.7 640.4 L631.4 643.9 L637.7 647.6 L643.6 651.5 L649.1 655.6 L654.1 659.8 L658.8 664.1 L663 668.5 L666.7 673 L669.9 677.7 L672.7 682.4 L674.9 687.1 L676.7 691.9 L678 696.8 L678.7 701.7 L679 706.6" fill="none" stroke="#262626" stroke-width="1" />
<path d="M312.1 696.1 L314 692 L316.3 687.9 L319 683.9 L322 679.9 L325.4 676 L329.1 672.2 L333.2 668.5 L337.6 664.9 L342.3 661.3 L347.3 657.9 L352.7 654.6 L358.3 651.5 L364.2 648.4 L370.3 645.5 L376.8 642.8 L383.4 640.2 L390.3 637.8 L397.4 635.5 L404.7 633.4 L412.2 631.4 L419.8 629.6 L427.6 628 L435.6 626.6 L443.6 625.4 L451.8 624.3 L460 623.5 L468.3 622.8 L476.7 622.3 L485.1 622 L493.5 621.9 L501.9 622 L510.3 622.3 L518.7 622.8 L527 623.5 L535.2 624.3 L543.4 625.4 L551.4 626.6 L559.4 628 L567.2 629.6 L574.8 631.4 L582.3 633.4 L589.6 635.5 L596.7 637.8 L603.6 640.2 L610.2 642.8 L616.7 645.5 L622.8 648.4 L628.7 651.5 L634.3 654.6 L639.7 657.9 L644.7 661.3 L649.4 664.9 L653.8 668.5 L657.9 672.2 L661.6 676 L665 679.9 L668 683.9 L670.7 687.9 L673 692 L674.9 696.1" fill="none" stroke="#262626" stroke-width="1" />
<path d="M690.5 651 L690.2 656.2 L689.4 661.4 L688.1 666.6 L686.2 671.7 L683.8 676.7 L680.9 681.7 L677.4 686.7 L673.5 691.5 L669 696.2 L664.1 700.7 L658.7 705.2 L652.9 709.5 L646.6 713.6 L639.9 717.6 L632.8 721.3 L625.3 724.9 L617.5 728.3 L609.3 731.5 L600.8 734.4 L592 737.2 L582.9 739.6 L573.6 741.9 L564.1 743.9 L554.4 745.6 L544.5 747.1 L534.5 748.3 L524.3 749.3 L514.1 749.9 L503.8 750.3 L493.5 750.5 L483.2 750.3 L472.9 749.9 L462.7 749.3 L452.5 748.3 L442.5 747.1 L432.6 745.6 L422.9 743.9 L413.4 741.9 L404.1 739.6 L395 737.2 L386.2 734.4 L377.7 731.5 L369.5 728.3 L361.7 724.9 L354.2 721.3 L347.1 717.6 L340.4 713.6 L334.1 709.5 L328.3 705.2 L322.9 700.7 L318 696.2 L313.5 691.5 L309.6 686.7 L306.1 681.7 L303.2 676.7 L300.8 671.7 L298.9 666.6 L297.6 661.4 L296.8 656.2 L296.5 651 L296.5 703.4 L296.8 708.6 L297.6 713.8 L298.9 719 L300.8 724.1 L303.2 729.1 L306.1 734.1 L309.6 739.1 L313.5 743.9 L318 748.6 L322.9 753.1 L328.3 757.6 L334.1 761.9 L340.4 766 L347.1 770 L354.2 773.7 L361.7 777.3 L369.5 780.7 L377.7 783.9 L386.2 786.8 L395 789.6 L404.1 792 L413.4 794.3 L422.9 796.3 L432.6 798 L442.5 799.5 L452.5 800.7 L462.7 801.7 L472.9 802.3 L483.2 802.7 L493.5 802.9 L503.8 802.7 L514.1 802.3 L524.3 801.7 L534.5 800.7 L544.5 799.5 L554.4 798 L564.1 796.3 L573.6 794.3 L582.9 792 L592 789.6 L600.8 786.8 L609.3 783.9 L617.5 780.7 L625.3 777.3 L632.8 773.7 L639.9 770 L646.6 766 L652.9 761.9 L658.7 757.6 L664.1 753.1 L669 748.6 L673.5 743.9 L677.4 739.1 L680.9 734.1 L683.8 729.1 L686.2 724.1 L688.1 719 L689.4 713.8 L690.2 708.6 L690.5 703.4Z" fill="#fff" stroke="#262626" stroke-width="1.4" />
<path d="M690 706.7 L689.4 710.5 L688.4 714.2 L687.2 717.8 L685.8 721.5 L684 725.1 L682 728.7 L679.7 732.3 L677.2 735.8 L674.4 739.2 L671.3 742.6 L668 746 L664.4 749.2 L660.7 752.4 L656.6 755.6 L652.4 758.6 L647.9 761.6 L643.2 764.5 L638.3 767.3 L633.2 770 L627.9 772.6 L622.4 775.1 L616.7 777.4 L610.8 779.7 L604.8 781.9 L598.6 783.9 L592.3 785.9 L585.8 787.7 L579.2 789.4 L572.5 790.9 L565.7 792.4 L558.8 793.7 L551.8 794.8 L544.7 795.9 L537.5 796.8 L530.2 797.5 L523 798.2 L515.6 798.7 L508.3 799 L500.9 799.2 L493.5 799.3 L486.1 799.2 L478.7 799 L471.4 798.7 L464 798.2 L456.8 797.5 L449.5 796.8 L442.3 795.9 L435.2 794.8 L428.2 793.7 L421.3 792.4 L414.5 790.9 L407.8 789.4 L401.2 787.7 L394.7 785.9 L388.4 783.9 L382.2 781.9 L376.2 779.7 L370.3 777.4 L364.6 775.1 L359.1 772.6 L353.8 770 L348.7 767.3 L343.8 764.5 L339.1 761.6 L334.6 758.6 L330.4 755.6 L326.3 752.4 L322.6 749.2 L319 746 L315.7 742.6 L312.6 739.2 L309.8 735.8 L307.3 732.3 L305 728.7 L303 725.1 L301.2 721.5 L299.8 717.8 L298.6 714.2 L297.6 710.5 L297 706.7" fill="none" stroke="#262626" stroke-width="1.2" />
<path d="M328.1 716.5L305.5 724.7" stroke="#262626" stroke-width="1.2" fill="none" />
<path d="M327.1 713.7L304.5 721.9" stroke="#262626" stroke-width="1.2" fill="none" />
<path d="M425.6 753.6L401.6 788.1" stroke="#262626" stroke-width="1.2" fill="none" />
<path d="M423.2 752L399.2 786.5" stroke="#262626" stroke-width="1.2" fill="none" />
<path d="M537.3 754.3L553 793.8" stroke="#262626" stroke-width="1.2" fill="none" />
<path d="M534.7 755.3L550.4 794.8" stroke="#262626" stroke-width="1.2" fill="none" />
<path d="M639.5 725.1L668.9 742.6" stroke="#262626" stroke-width="1.2" fill="none" />
<path d="M638.1 727.5L667.5 745" stroke="#262626" stroke-width="1.2" fill="none" />
<path d="M289 651 L289.3 656.4 L290.1 661.8 L291.5 667.2 L293.5 672.5 L296 677.7 L299 682.9 L302.6 688 L306.7 693 L311.3 697.9 L316.4 702.6 L322 707.2 L328.1 711.7 L334.6 716 L341.5 720.1 L348.9 724 L356.7 727.7 L364.8 731.3 L373.3 734.5 L382.1 737.6 L391.3 740.4 L400.7 743 L410.3 745.3 L420.2 747.4 L430.3 749.2 L440.6 750.8 L451 752 L461.5 753 L472.1 753.7 L482.8 754.1 L493.5 754.3 L504.2 754.1 L514.9 753.7 L525.5 753 L536 752 L546.4 750.8 L556.7 749.2 L566.8 747.4 L576.7 745.3 L586.3 743 L595.8 740.4 L604.9 737.6 L613.7 734.5 L622.2 731.3 L630.3 727.7 L638.1 724 L645.5 720.1 L652.4 716 L658.9 711.7 L665 707.2 L670.6 702.6 L675.7 697.9 L680.3 693 L684.4 688 L688 682.9 L691 677.7 L693.5 672.5 L695.5 667.2 L696.9 661.8 L697.7 656.4 L698 651 L698 643.8 L697.7 649.2 L696.9 654.6 L695.5 660 L693.5 665.3 L691 670.5 L688 675.7 L684.4 680.8 L680.3 685.8 L675.7 690.7 L670.6 695.4 L665 700 L658.9 704.5 L652.4 708.8 L645.5 712.9 L638.1 716.8 L630.3 720.5 L622.2 724.1 L613.7 727.3 L604.9 730.4 L595.8 733.2 L586.3 735.8 L576.7 738.1 L566.8 740.2 L556.7 742 L546.4 743.6 L536 744.8 L525.5 745.8 L514.9 746.5 L504.2 746.9 L493.5 747.1 L482.8 746.9 L472.1 746.5 L461.5 745.8 L451 744.8 L440.6 743.6 L430.3 742 L420.2 740.2 L410.3 738.1 L400.7 735.8 L391.3 733.2 L382.1 730.4 L373.3 727.3 L364.8 724.1 L356.7 720.5 L348.9 716.8 L341.5 712.9 L334.6 708.8 L328.1 704.5 L322 700 L316.4 695.4 L311.3 690.7 L306.7 685.8 L302.6 680.8 L299 675.7 L296 670.5 L293.5 665.3 L291.5 660 L290.1 654.6 L289.3 649.2 L289 643.8Z" fill="#fff" stroke="#262626" stroke-width="1.4" />
<ellipse cx="493.5" cy="643.8" rx="204.5" ry="103.3" fill="#fff" stroke="#262626" stroke-width="1.4" />
<path d="M308 643.8 L308.3 638.9 L309 634 L310.3 629.1 L312.1 624.3 L314.3 619.6 L317.1 614.9 L320.3 610.2 L324 605.7 L328.2 601.3 L332.9 597 L337.9 592.8 L343.4 588.7 L349.3 584.8 L355.6 581.1 L362.3 577.6 L369.4 574.2 L376.8 571 L384.5 568 L392.5 565.2 L400.7 562.7 L409.3 560.3 L418.1 558.2 L427 556.3 L436.2 554.7 L445.5 553.3 L454.9 552.2 L464.5 551.3 L474.1 550.6 L483.8 550.3 L493.5 550.1 L503.2 550.3 L512.9 550.6 L522.5 551.3 L532.1 552.2 L541.5 553.3 L550.8 554.7 L560 556.3 L568.9 558.2 L577.7 560.3 L586.2 562.7 L594.5 565.2 L602.5 568 L610.2 571 L617.6 574.2 L624.7 577.6 L631.4 581.1 L637.7 584.8 L643.6 588.7 L649.1 592.8 L654.1 597 L658.8 601.3 L663 605.7 L666.7 610.2 L669.9 614.9 L672.7 619.6 L674.9 624.3 L676.7 629.1 L678 634 L678.7 638.9 L679 643.8" fill="none" stroke="#262626" stroke-width="1" />
<path d="M312.1 633.3 L314 629.2 L316.3 625.1 L319 621.1 L322 617.1 L325.4 613.2 L329.1 609.4 L333.2 605.7 L337.6 602.1 L342.3 598.5 L347.3 595.1 L352.7 591.8 L358.3 588.7 L364.2 585.6 L370.3 582.7 L376.8 580 L383.4 577.4 L390.3 575 L397.4 572.7 L404.7 570.6 L412.2 568.6 L419.8 566.8 L427.6 565.2 L435.6 563.8 L443.6 562.6 L451.8 561.5 L460 560.7 L468.3 560 L476.7 559.5 L485.1 559.2 L493.5 559.1 L501.9 559.2 L510.3 559.5 L518.7 560 L527 560.7 L535.2 561.5 L543.4 562.6 L551.4 563.8 L559.4 565.2 L567.2 566.8 L574.8 568.6 L582.3 570.6 L589.6 572.7 L596.7 575 L603.6 577.4 L610.2 580 L616.7 582.7 L622.8 585.6 L628.7 588.7 L634.3 591.8 L639.7 595.1 L644.7 598.5 L649.4 602.1 L653.8 605.7 L657.9 609.4 L661.6 613.2 L665 617.1 L668 621.1 L670.7 625.1 L673 629.2 L674.9 633.3" fill="none" stroke="#262626" stroke-width="1" />
<path d="M690.5 588.2 L690.2 593.4 L689.4 598.6 L688.1 603.8 L686.2 608.9 L683.8 613.9 L680.9 618.9 L677.4 623.9 L673.5 628.7 L669 633.4 L664.1 637.9 L658.7 642.4 L652.9 646.7 L646.6 650.8 L639.9 654.8 L632.8 658.5 L625.3 662.1 L617.5 665.5 L609.3 668.7 L600.8 671.6 L592 674.4 L582.9 676.8 L573.6 679.1 L564.1 681.1 L554.4 682.8 L544.5 684.3 L534.5 685.5 L524.3 686.5 L514.1 687.1 L503.8 687.5 L493.5 687.7 L483.2 687.5 L472.9 687.1 L462.7 686.5 L452.5 685.5 L442.5 684.3 L432.6 682.8 L422.9 681.1 L413.4 679.1 L404.1 676.8 L395 674.4 L386.2 671.6 L377.7 668.7 L369.5 665.5 L361.7 662.1 L354.2 658.5 L347.1 654.8 L340.4 650.8 L334.1 646.7 L328.3 642.4 L322.9 637.9 L318 633.4 L313.5 628.7 L309.6 623.9 L306.1 618.9 L303.2 613.9 L300.8 608.9 L298.9 603.8 L297.6 598.6 L296.8 593.4 L296.5 588.2 L296.5 640.6 L296.8 645.8 L297.6 651 L298.9 656.2 L300.8 661.3 L303.2 666.3 L306.1 671.3 L309.6 676.3 L313.5 681.1 L318 685.8 L322.9 690.3 L328.3 694.8 L334.1 699.1 L340.4 703.2 L347.1 707.2 L354.2 710.9 L361.7 714.5 L369.5 717.9 L377.7 721.1 L386.2 724 L395 726.8 L404.1 729.2 L413.4 731.5 L422.9 733.5 L432.6 735.2 L442.5 736.7 L452.5 737.9 L462.7 738.9 L472.9 739.5 L483.2 739.9 L493.5 740.1 L503.8 739.9 L514.1 739.5 L524.3 738.9 L534.5 737.9 L544.5 736.7 L554.4 735.2 L564.1 733.5 L573.6 731.5 L582.9 729.2 L592 726.8 L600.8 724 L609.3 721.1 L617.5 717.9 L625.3 714.5 L632.8 710.9 L639.9 707.2 L646.6 703.2 L652.9 699.1 L658.7 694.8 L664.1 690.3 L669 685.8 L673.5 681.1 L677.4 676.3 L680.9 671.3 L683.8 666.3 L686.2 661.3 L688.1 656.2 L689.4 651 L690.2 645.8 L690.5 640.6Z" fill="#fff" stroke="#262626" stroke-width="1.4" />
<path d="M690 643.9 L689.4 647.7 L688.4 651.4 L687.2 655 L685.8 658.7 L684 662.3 L682 665.9 L679.7 669.5 L677.2 673 L674.4 676.4 L671.3 679.8 L668 683.2 L664.4 686.4 L660.7 689.6 L656.6 692.8 L652.4 695.8 L647.9 698.8 L643.2 701.7 L638.3 704.5 L633.2 707.2 L627.9 709.8 L622.4 712.3 L616.7 714.6 L610.8 716.9 L604.8 719.1 L598.6 721.1 L592.3 723.1 L585.8 724.9 L579.2 726.6 L572.5 728.1 L565.7 729.6 L558.8 730.9 L551.8 732 L544.7 733.1 L537.5 734 L530.2 734.7 L523 735.4 L515.6 735.9 L508.3 736.2 L500.9 736.4 L493.5 736.5 L486.1 736.4 L478.7 736.2 L471.4 735.9 L464 735.4 L456.8 734.7 L449.5 734 L442.3 733.1 L435.2 732 L428.2 730.9 L421.3 729.6 L414.5 728.1 L407.8 726.6 L401.2 724.9 L394.7 723.1 L388.4 721.1 L382.2 719.1 L376.2 716.9 L370.3 714.6 L364.6 712.3 L359.1 709.8 L353.8 707.2 L348.7 704.5 L343.8 701.7 L339.1 698.8 L334.6 695.8 L330.4 692.8 L326.3 689.6 L322.6 686.4 L319 683.2 L315.7 679.8 L312.6 676.4 L309.8 673 L307.3 669.5 L305 665.9 L303 662.3 L301.2 658.7 L299.8 655 L298.6 651.4 L297.6 647.7 L297 643.9" fill="none" stroke="#262626" stroke-width="1.2" />
<path d="M328.1 653.7L305.5 661.9" stroke="#262626" stroke-width="1.2" fill="none" />
<path d="M327.1 650.9L304.5 659.1" stroke="#262626" stroke-width="1.2" fill="none" />
<path d="M425.6 690.8L401.6 725.3" stroke="#262626" stroke-width="1.2" fill="none" />
<path d="M423.2 689.2L399.2 723.7" stroke="#262626" stroke-width="1.2" fill="none" />
<path d="M537.3 691.5L553 731" stroke="#262626" stroke-width="1.2" fill="none" />
<path d="M534.7 692.5L550.4 732" stroke="#262626" stroke-width="1.2" fill="none" />
<path d="M639.5 662.3L668.9 679.8" stroke="#262626" stroke-width="1.2" fill="none" />
<path d="M638.1 664.7L667.5 682.2" stroke="#262626" stroke-width="1.2" fill="none" />
<path d="M289 588.2 L289.3 593.6 L290.1 599 L291.5 604.4 L293.5 609.7 L296 614.9 L299 620.1 L302.6 625.2 L306.7 630.2 L311.3 635.1 L316.4 639.8 L322 644.4 L328.1 648.9 L334.6 653.2 L341.5 657.3 L348.9 661.2 L356.7 664.9 L364.8 668.5 L373.3 671.7 L382.1 674.8 L391.3 677.6 L400.7 680.2 L410.3 682.5 L420.2 684.6 L430.3 686.4 L440.6 688 L451 689.2 L461.5 690.2 L472.1 690.9 L482.8 691.3 L493.5 691.5 L504.2 691.3 L514.9 690.9 L525.5 690.2 L536 689.2 L546.4 688 L556.7 686.4 L566.8 684.6 L576.7 682.5 L586.3 680.2 L595.8 677.6 L604.9 674.8 L613.7 671.7 L622.2 668.5 L630.3 664.9 L638.1 661.2 L645.5 657.3 L652.4 653.2 L658.9 648.9 L665 644.4 L670.6 639.8 L675.7 635.1 L680.3 630.2 L684.4 625.2 L688 620.1 L691 614.9 L693.5 609.7 L695.5 604.4 L696.9 599 L697.7 593.6 L698 588.2 L698 581 L697.7 586.4 L696.9 591.8 L695.5 597.2 L693.5 602.5 L691 607.7 L688 612.9 L684.4 618 L680.3 623 L675.7 627.9 L670.6 632.6 L665 637.2 L658.9 641.7 L652.4 646 L645.5 650.1 L638.1 654 L630.3 657.7 L622.2 661.3 L613.7 664.5 L604.9 667.6 L595.8 670.4 L586.3 673 L576.7 675.3 L566.8 677.4 L556.7 679.2 L546.4 680.8 L536 682 L525.5 683 L514.9 683.7 L504.2 684.1 L493.5 684.3 L482.8 684.1 L472.1 683.7 L461.5 683 L451 682 L440.6 680.8 L430.3 679.2 L420.2 677.4 L410.3 675.3 L400.7 673 L391.3 670.4 L382.1 667.6 L373.3 664.5 L364.8 661.3 L356.7 657.7 L348.9 654 L341.5 650.1 L334.6 646 L328.1 641.7 L322 637.2 L316.4 632.6 L311.3 627.9 L306.7 623 L302.6 618 L299 612.9 L296 607.7 L293.5 602.5 L291.5 597.2 L290.1 591.8 L289.3 586.4 L289 581Z" fill="#fff" stroke="#262626" stroke-width="1.4" />
<g clip-path="url(#c9)">
<path d="M480.5 570.9 L432.5 500.5 L432.1 548Z" fill="#fff" stroke="#262626" stroke-width="0" />
<path d="M480.5 570.9 L432.1 548" fill="none" stroke="#262626" stroke-width="1.2" />
<path d="M480.5 570.9 L432.1 535" fill="none" stroke="#262626" stroke-width="1.2" />
<path d="M511 571.8 L575.7 504.9 L576.1 552.4Z" fill="#fff" stroke="#262626" stroke-width="0" />
<path d="M511 571.8 L576.1 552.4" fill="none" stroke="#262626" stroke-width="1.2" />
<path d="M511 571.8 L576.1 539.4" fill="none" stroke="#262626" stroke-width="1.2" />
<path d="M457.5 581.1 L325 548.5 L324.1 596.3Z" fill="#fff" stroke="#262626" stroke-width="0" />
<path d="M457.5 581.1 L324.1 596.3" fill="none" stroke="#262626" stroke-width="1.2" />
<path d="M457.5 581.1 L324.1 583.3" fill="none" stroke="#262626" stroke-width="1.2" />
<path d="M531.3 583.4 L670.8 559.2 L671.7 607Z" fill="#fff" stroke="#262626" stroke-width="0" />
<path d="M531.3 583.4 L671.7 607" fill="none" stroke="#262626" stroke-width="1.2" />
<path d="M531.3 583.4 L671.7 594" fill="none" stroke="#262626" stroke-width="1.2" />
<path d="M455.7 596.6 L316.2 620.8 L315.3 669Z" fill="#fff" stroke="#262626" stroke-width="0" />
<path d="M455.7 596.6 L315.3 669" fill="none" stroke="#262626" stroke-width="1.2" />
<path d="M455.7 596.6 L315.3 656" fill="none" stroke="#262626" stroke-width="1.2" />
<path d="M529.5 598.9 L662 631.5 L662.9 679.7Z" fill="#fff" stroke="#262626" stroke-width="0" />
<path d="M529.5 598.9 L662.9 679.7" fill="none" stroke="#262626" stroke-width="1.2" />
<path d="M529.5 598.9 L662.9 666.7" fill="none" stroke="#262626" stroke-width="1.2" />
<path d="M476 608.2 L411.3 675.1 L410.9 723.6Z" fill="#fff" stroke="#262626" stroke-width="0" />
<path d="M476 608.2 L410.9 723.6" fill="none" stroke="#262626" stroke-width="1.2" />
<path d="M476 608.2 L410.9 710.6" fill="none" stroke="#262626" stroke-width="1.2" />
<path d="M506.5 609.1 L554.5 679.5 L554.9 728Z" fill="#fff" stroke="#262626" stroke-width="0" />
<path d="M506.5 609.1 L554.9 728" fill="none" stroke="#262626" stroke-width="1.2" />
<path d="M506.5 609.1 L554.9 715" fill="none" stroke="#262626" stroke-width="1.2" />
</g>
<path d="M518.7 592.5 L655.8 626.3 L655.8 635.3 L518.7 601.5Z" fill="#fff" stroke="#262626" stroke-width="1.2" />
<path d="M513.1 595 L515.1 594.3 L516.9 593.4 L518.7 592.5 L518.7 601.5 L516.9 602.4 L515.1 603.3 L513.1 604Z" fill="#fff" stroke="#262626" stroke-width="1.2" />
<path d="M495.1 598.1 L544.8 671 L544.8 680 L495.1 607.1Z" fill="#fff" stroke="#262626" stroke-width="1.2" />
<path d="M420.8 667.2 L487.7 597.9 L487.7 606.9 L420.8 676.2Z" fill="#fff" stroke="#262626" stroke-width="1.2" />
<path d="M487.7 597.9 L490.2 598.1 L492.7 598.2 L495.1 598.1 L495.1 607.1 L492.7 607.2 L490.2 607.1 L487.7 606.9Z" fill="#fff" stroke="#262626" stroke-width="1.2" />
<path d="M321.4 616 L465.7 590.9 L465.7 599.9 L321.4 625Z" fill="#fff" stroke="#262626" stroke-width="1.2" />
<path d="M465.7 590.9 L467.2 591.9 L468.9 592.8 L470.7 593.7 L470.7 602.7 L468.9 601.8 L467.2 600.9 L465.7 599.9Z" fill="#fff" stroke="#262626" stroke-width="1.2" />
<path d="M308 579.8 L308.3 575.3 L309.1 570.7 L310.3 566.2 L312 561.7 L314.1 557.3 L316.6 552.9 L319.5 548.5 L322.8 544.3 L322.8 553.3 L319.5 557.5 L316.6 561.9 L314.1 566.3 L312 570.7 L310.3 575.2 L309.1 579.7 L308.3 584.3 L308 588.8Z" fill="#fff" stroke="#262626" stroke-width="1.2" />
<path d="M322.8 544.3 L460 578.1 L460 587.1 L322.8 553.3Z" fill="#fff" stroke="#262626" stroke-width="1.2" />
<path d="M459.5 580.6 L459.5 581.8 L459.5 590.8 L459.5 589.6Z" fill="#fff" stroke="#262626" stroke-width="1.2" />
<path d="M331.2 535.7 L335.7 531.7 L340.7 527.9 L346 524.2 L351.6 520.6 L357.6 517.2 L364 513.9 L370.6 510.8 L377.5 507.9 L384.7 505.1 L392.2 502.5 L399.9 500.1 L407.8 497.9 L415.9 495.9 L424.2 494.1 L424.2 503.1 L415.9 504.9 L407.8 506.9 L399.9 509.1 L392.2 511.5 L384.7 514.1 L377.5 516.9 L370.6 519.8 L364 522.9 L357.6 526.2 L351.6 529.6 L346 533.2 L340.7 536.9 L335.7 540.7 L331.2 544.7Z" fill="#fff" stroke="#262626" stroke-width="1.2" />
<path d="M424.2 494.1 L473.9 567 L473.9 576 L424.2 503.1Z" fill="#fff" stroke="#262626" stroke-width="1.2" />
<path d="M442.2 491 L450.9 489.8 L459.8 488.9 L468.7 488.2 L477.7 487.7 L486.7 487.4 L495.8 487.3 L504.8 487.5 L513.8 487.9 L522.8 488.5 L531.7 489.3 L540.5 490.4 L549.2 491.6 L557.8 493.1 L566.2 494.8 L566.2 503.8 L557.8 502.1 L549.2 500.6 L540.5 499.4 L531.7 498.3 L522.8 497.5 L513.8 496.9 L504.8 496.5 L495.8 496.3 L486.7 496.4 L477.7 496.7 L468.7 497.2 L459.8 497.9 L450.9 498.8 L442.2 500Z" fill="#fff" stroke="#262626" stroke-width="1.2" />
<path d="M516.3 568.3 L583.2 499 L583.2 508 L516.3 577.3Z" fill="#fff" stroke="#262626" stroke-width="1.2" />
<path d="M583.2 499 L591.1 501.3 L598.6 503.8 L606 506.5 L613 509.4 L619.8 512.4 L626.3 515.6 L632.4 518.9 L638.3 522.4 L643.7 526.1 L648.9 529.8 L653.6 533.7 L658 537.7 L662 541.8 L665.6 546 L665.6 555 L662 550.8 L658 546.7 L653.6 542.7 L648.9 538.8 L643.7 535.1 L638.3 531.4 L632.4 527.9 L626.3 524.6 L619.8 521.4 L613 518.4 L606 515.5 L598.6 512.8 L591.1 510.3 L583.2 508Z" fill="#fff" stroke="#262626" stroke-width="1.2" />
<path d="M527.5 580.2 L671.8 555.1 L671.8 564.1 L527.5 589.2Z" fill="#fff" stroke="#262626" stroke-width="1.2" />
<path d="M671.8 555.1 L674 559.5 L675.9 564 L677.3 568.5 L678.3 573 L678.9 577.6 L679 582.2 L679 591.2 L678.9 586.6 L678.3 582 L677.3 577.5 L675.9 573 L674 568.5 L671.8 564.1Z" fill="#fff" stroke="#262626" stroke-width="1.2" />
<path d="M527 583.9 L527.3 582.7 L527.5 581.4 L527.5 590.4 L527.3 591.7 L527 592.9Z" fill="#fff" stroke="#262626" stroke-width="1.2" />
<path d="M698 581 L697.7 586.4 L696.9 591.8 L695.5 597.2 L693.5 602.5 L691 607.7 L688 612.9 L684.4 618 L680.3 623 L675.7 627.9 L670.6 632.6 L665 637.2 L658.9 641.7 L652.4 646 L645.5 650.1 L638.1 654 L630.3 657.7 L622.2 661.3 L613.7 664.5 L604.9 667.6 L595.8 670.4 L586.3 673 L576.7 675.3 L566.8 677.4 L556.7 679.2 L546.4 680.8 L536 682 L525.5 683 L514.9 683.7 L504.2 684.1 L493.5 684.3 L482.8 684.1 L472.1 683.7 L461.5 683 L451 682 L440.6 680.8 L430.3 679.2 L420.2 677.4 L410.3 675.3 L400.7 673 L391.3 670.4 L382.1 667.6 L373.3 664.5 L364.8 661.3 L356.7 657.7 L348.9 654 L341.5 650.1 L334.6 646 L328.1 641.7 L322 637.2 L316.4 632.6 L311.3 627.9 L306.7 623 L302.6 618 L299 612.9 L296 607.7 L293.5 602.5 L291.5 597.2 L290.1 591.8 L289.3 586.4 L289 581 L289.3 575.6 L290.1 570.2 L291.5 564.8 L293.5 559.5 L296 554.3 L299 549.1 L302.6 544 L306.7 539 L311.3 534.1 L316.4 529.4 L322 524.8 L328.1 520.3 L334.6 516 L341.5 511.9 L348.9 508 L356.7 504.3 L364.8 500.7 L373.3 497.5 L382.1 494.4 L391.2 491.6 L400.7 489 L410.3 486.7 L420.2 484.6 L430.3 482.8 L440.6 481.2 L451 480 L461.5 479 L472.1 478.3 L482.8 477.9 L493.5 477.7 L504.2 477.9 L514.9 478.3 L525.5 479 L536 480 L546.4 481.2 L556.7 482.8 L566.8 484.6 L576.7 486.7 L586.3 489 L595.8 491.6 L604.9 494.4 L613.7 497.5 L622.2 500.7 L630.3 504.3 L638.1 508 L645.5 511.9 L652.4 516 L658.9 520.3 L665 524.8 L670.6 529.4 L675.7 534.1 L680.3 539 L684.4 544 L688 549.1 L691 554.3 L693.5 559.5 L695.5 564.8 L696.9 570.2 L697.7 575.6 L698 581ZM518.7 592.5 L655.8 626.3 L655.8 626.3 L651.3 630.3 L646.3 634.1 L641 637.8 L635.4 641.4 L629.4 644.8 L623 648.1 L616.4 651.2 L609.5 654.1 L602.3 656.9 L594.8 659.5 L587.1 661.9 L579.2 664.1 L571.1 666.1 L562.8 667.9 L562.8 667.9 L513.1 595 L513.1 595 L515.1 594.3 L516.9 593.4 L518.7 592.5ZM495.1 598.1 L544.8 671 L544.8 671 L536.1 672.2 L527.2 673.1 L518.3 673.8 L509.3 674.3 L500.3 674.6 L491.2 674.7 L482.2 674.5 L473.2 674.1 L464.2 673.5 L455.3 672.7 L446.5 671.6 L437.8 670.4 L429.2 668.9 L420.8 667.2 L420.8 667.2 L487.7 597.9 L487.7 597.9 L490.2 598.1 L492.7 598.2 L495.1 598.1ZM470.7 593.7 L403.8 663 L403.8 663 L395.9 660.7 L388.4 658.2 L381 655.5 L374 652.6 L367.2 649.6 L360.7 646.4 L354.6 643.1 L348.7 639.6 L343.3 635.9 L338.1 632.2 L333.4 628.3 L329 624.3 L325 620.2 L321.4 616 L321.4 616 L465.7 590.9 L465.7 590.9 L467.2 591.9 L468.9 592.8 L470.7 593.7ZM459.5 581.8 L315.2 606.9 L315.2 606.9 L313 602.5 L311.1 598 L309.7 593.5 L308.7 589 L308.1 584.4 L308 579.8 L308.3 575.3 L309.1 570.7 L310.3 566.2 L312 561.7 L314.1 557.3 L316.6 552.9 L319.5 548.5 L322.8 544.3 L322.8 544.3 L460 578.1 L460 578.1 L459.7 579.3 L459.5 580.6 L459.5 581.8ZM468.3 569.5 L331.2 535.7 L331.2 535.7 L335.7 531.7 L340.7 527.9 L346 524.2 L351.6 520.6 L357.6 517.2 L364 513.9 L370.6 510.8 L377.5 507.9 L384.7 505.1 L392.2 502.5 L399.9 500.1 L407.8 497.9 L415.9 495.9 L424.2 494.1 L424.2 494.1 L473.9 567 L473.9 567 L471.9 567.7 L470.1 568.6 L468.3 569.5ZM491.9 563.9 L442.2 491 L442.2 491 L450.9 489.8 L459.8 488.9 L468.7 488.2 L477.7 487.7 L486.7 487.4 L495.8 487.3 L504.8 487.5 L513.8 487.9 L522.8 488.5 L531.7 489.3 L540.5 490.4 L549.2 491.6 L557.8 493.1 L566.2 494.8 L566.2 494.8 L499.3 564.1 L499.3 564.1 L496.8 563.9 L494.3 563.8 L491.9 563.9ZM516.3 568.3 L583.2 499 L583.2 499 L591.1 501.3 L598.6 503.8 L606 506.5 L613 509.4 L619.8 512.4 L626.3 515.6 L632.4 518.9 L638.3 522.4 L643.7 526.1 L648.9 529.8 L653.6 533.7 L658 537.7 L662 541.8 L665.6 546 L665.6 546 L521.3 571.1 L521.3 571.1 L519.8 570.1 L518.1 569.2 L516.3 568.3ZM527.5 580.2 L671.8 555.1 L671.8 555.1 L674 559.5 L675.9 564 L677.3 568.5 L678.3 573 L678.9 577.6 L679 582.2 L678.7 586.7 L677.9 591.3 L676.7 595.8 L675 600.3 L672.9 604.7 L670.4 609.1 L667.5 613.5 L664.2 617.7 L664.2 617.7 L527 583.9 L527 583.9 L527.3 582.7 L527.5 581.4 L527.5 580.2Z" fill="#fff" stroke="#262626" stroke-width="1.4" fill-rule="evenodd"/>
<g clip-path="url(#c10)">
<path d="M458 276.7 L458 286.7 L457.9 288.5 L457.6 290.3 L457.2 292 L456.5 293.8 L455.7 295.5 L454.7 297.2 L453.6 298.9 L452.3 300.5 L450.8 302.1 L449.1 303.7 L447.3 305.2 L445.3 306.7 L443.2 308.1 L440.9 309.5 L438.5 310.7 L436 312 L433.3 313.1 L430.6 314.2 L427.7 315.2 L424.8 316.1 L421.7 317 L418.5 317.8 L415.3 318.4 L412 319 L408.7 319.5 L405.3 320 L401.9 320.3 L398.5 320.5 L395 320.7 L391.5 320.7 L388 320.7 L384.5 320.5 L381.1 320.3 L377.7 320 L374.3 319.5 L371 319 L367.7 318.4 L364.5 317.8 L361.3 317 L358.2 316.1 L355.3 315.2 L352.4 314.2 L349.7 313.1 L347 312 L344.5 310.7 L342.1 309.5 L339.8 308.1 L337.7 306.7 L335.7 305.2 L333.9 303.7 L332.2 302.1 L330.7 300.5 L329.4 298.9 L328.3 297.2 L327.3 295.5 L326.5 293.8 L325.8 292 L325.4 290.3 L325.1 288.5 L325 286.7 L325 276.7Z" fill="#fff" stroke="#262626" stroke-width="0.9" />
<ellipse cx="391.5" cy="276.7" rx="66.5" ry="34" fill="#fff" stroke="#262626" stroke-width="0.9" />
</g>
<g clip-path="url(#c10)"><path d="M325.6 275.7V321.7M327.7 275.7V321.7M329.7 275.7V321.7M331.8 275.7V321.7M333.8 275.7V321.7M335.9 275.7V321.7M337.9 275.7V321.7M340 275.7V321.7M342 275.7V321.7M344.1 275.7V321.7M346.1 275.7V321.7M348.2 275.7V321.7M350.2 275.7V321.7M352.3 275.7V321.7M354.3 275.7V321.7M356.4 275.7V321.7M358.4 275.7V321.7M360.5 275.7V321.7M362.5 275.7V321.7M364.6 275.7V321.7M366.6 275.7V321.7M368.7 275.7V321.7M370.7 275.7V321.7M372.8 275.7V321.7M374.8 275.7V321.7M376.9 275.7V321.7M378.9 275.7V321.7M381 275.7V321.7M383 275.7V321.7M385.1 275.7V321.7M387.1 275.7V321.7M389.2 275.7V321.7M391.2 275.7V321.7M393.3 275.7V321.7M395.3 275.7V321.7M397.4 275.7V321.7M399.4 275.7V321.7M401.5 275.7V321.7M403.5 275.7V321.7M405.6 275.7V321.7M407.6 275.7V321.7M409.7 275.7V321.7M411.7 275.7V321.7M413.8 275.7V321.7M415.8 275.7V321.7M417.9 275.7V321.7M419.9 275.7V321.7M422 275.7V321.7M424 275.7V321.7M426.1 275.7V321.7M428.1 275.7V321.7M430.2 275.7V321.7M432.2 275.7V321.7M434.3 275.7V321.7M436.3 275.7V321.7M438.4 275.7V321.7M440.4 275.7V321.7M442.5 275.7V321.7M444.5 275.7V321.7M446.6 275.7V321.7M448.6 275.7V321.7M450.7 275.7V321.7M452.7 275.7V321.7M454.8 275.7V321.7M456.8 275.7V321.7" stroke="#1c1c1c" stroke-width="1.45" fill="none" clip-path="url(#c11)"/></g>
<g clip-path="url(#c10)">
<path d="M661.5 323.5 L661.5 334.5 L661.4 336.4 L661.1 338.4 L660.6 340.3 L659.9 342.2 L659 344.1 L657.9 345.9 L656.7 347.8 L655.2 349.5 L653.5 351.3 L651.7 353 L649.7 354.7 L647.6 356.2 L645.2 357.8 L642.7 359.3 L640.1 360.7 L637.3 362 L634.4 363.3 L631.4 364.4 L628.3 365.5 L625 366.5 L621.6 367.5 L618.2 368.3 L614.7 369 L611.1 369.7 L607.4 370.2 L603.7 370.7 L599.9 371 L596.1 371.3 L592.3 371.4 L588.5 371.5 L584.7 371.4 L580.9 371.3 L577.1 371 L573.3 370.7 L569.6 370.2 L565.9 369.7 L562.3 369 L558.8 368.3 L555.4 367.5 L552 366.5 L548.7 365.5 L545.6 364.4 L542.6 363.3 L539.7 362 L536.9 360.7 L534.3 359.3 L531.8 357.8 L529.4 356.2 L527.3 354.7 L525.3 353 L523.5 351.3 L521.8 349.5 L520.3 347.8 L519.1 345.9 L518 344.1 L517.1 342.2 L516.4 340.3 L515.9 338.4 L515.6 336.4 L515.5 334.5 L515.5 323.5Z" fill="#fff" stroke="#262626" stroke-width="0.9" />
<ellipse cx="588.5" cy="323.5" rx="73" ry="37" fill="#fff" stroke="#262626" stroke-width="0.9" />
</g>
<g clip-path="url(#c10)"><path d="M516.1 322.5V372.5M518.1 322.5V372.5M520.2 322.5V372.5M522.2 322.5V372.5M524.3 322.5V372.5M526.3 322.5V372.5M528.4 322.5V372.5M530.4 322.5V372.5M532.5 322.5V372.5M534.5 322.5V372.5M536.6 322.5V372.5M538.6 322.5V372.5M540.7 322.5V372.5M542.7 322.5V372.5M544.8 322.5V372.5M546.8 322.5V372.5M548.9 322.5V372.5M550.9 322.5V372.5M553 322.5V372.5M555 322.5V372.5M557.1 322.5V372.5M559.1 322.5V372.5M561.2 322.5V372.5M563.2 322.5V372.5M565.3 322.5V372.5M567.3 322.5V372.5M569.4 322.5V372.5M571.4 322.5V372.5M573.5 322.5V372.5M575.5 322.5V372.5M577.6 322.5V372.5M579.6 322.5V372.5M581.7 322.5V372.5M583.7 322.5V372.5M585.8 322.5V372.5M587.8 322.5V372.5M589.9 322.5V372.5M591.9 322.5V372.5M594 322.5V372.5M596 322.5V372.5M598.1 322.5V372.5M600.1 322.5V372.5M602.2 322.5V372.5M604.2 322.5V372.5M606.3 322.5V372.5M608.3 322.5V372.5M610.4 322.5V372.5M612.4 322.5V372.5M614.5 322.5V372.5M616.5 322.5V372.5M618.6 322.5V372.5M620.6 322.5V372.5M622.7 322.5V372.5M624.7 322.5V372.5M626.8 322.5V372.5M628.8 322.5V372.5M630.9 322.5V372.5M632.9 322.5V372.5M635 322.5V372.5M637 322.5V372.5M639.1 322.5V372.5M641.1 322.5V372.5M643.2 322.5V372.5M645.2 322.5V372.5M647.3 322.5V372.5M649.3 322.5V372.5M651.4 322.5V372.5M653.4 322.5V372.5M655.5 322.5V372.5M657.5 322.5V372.5M659.6 322.5V372.5" stroke="#1c1c1c" stroke-width="1.45" fill="none" clip-path="url(#c12)"/></g>
<ellipse cx="588.5" cy="323.2" rx="11.3" ry="5.9" fill="#fff" stroke="#262626" stroke-width="1" />
<path d="M578.5 323 L579.5 322.1 L580.8 321.2 L582.4 320.5 L584.3 320 L586.4 319.7 L588.5 319.6 L590.6 319.7 L592.7 320 L594.6 320.5 L596.2 321.2 L597.5 322.1 L598.5 323" fill="none" stroke="#262626" stroke-width="0.7" />
<g clip-path="url(#c10)">
<path d="M525.8 300 L525.8 309.5 L525.8 310.4 L525.6 311.3 L525.4 312.2 L525.1 313.1 L524.6 314 L524.1 314.8 L523.6 315.7 L522.9 316.5 L522.1 317.3 L521.3 318.1 L520.3 318.9 L519.3 319.6 L518.3 320.3 L517.1 321 L515.9 321.7 L514.6 322.3 L513.3 322.9 L511.9 323.4 L510.4 323.9 L508.9 324.4 L507.3 324.8 L505.7 325.2 L504.1 325.6 L502.4 325.9 L500.7 326.1 L499 326.3 L497.3 326.5 L495.5 326.6 L493.8 326.7 L492 326.7 L490.2 326.7 L488.5 326.6 L486.7 326.5 L485 326.3 L483.3 326.1 L481.6 325.9 L479.9 325.6 L478.3 325.2 L476.7 324.8 L475.1 324.4 L473.6 323.9 L472.1 323.4 L470.7 322.9 L469.4 322.3 L468.1 321.7 L466.9 321 L465.7 320.3 L464.7 319.6 L463.7 318.9 L462.7 318.1 L461.9 317.3 L461.1 316.5 L460.4 315.7 L459.9 314.8 L459.4 314 L458.9 313.1 L458.6 312.2 L458.4 311.3 L458.2 310.4 L458.2 309.5 L458.2 300Z" fill="#fff" stroke="#262626" stroke-width="0.9" />
<ellipse cx="492" cy="300" rx="33.8" ry="17.2" fill="#fff" stroke="#262626" stroke-width="0.9" />
</g>
<g clip-path="url(#c10)"><path d="M458.8 299V327.7M460.9 299V327.7M462.9 299V327.7M465 299V327.7M467 299V327.7M469.1 299V327.7M471.1 299V327.7M473.2 299V327.7M475.2 299V327.7M477.3 299V327.7M479.3 299V327.7M481.4 299V327.7M483.4 299V327.7M485.5 299V327.7M487.5 299V327.7M489.6 299V327.7M491.6 299V327.7M493.7 299V327.7M495.7 299V327.7M497.8 299V327.7M499.8 299V327.7M501.9 299V327.7M503.9 299V327.7M506 299V327.7M508 299V327.7M510.1 299V327.7M512.1 299V327.7M514.2 299V327.7M516.2 299V327.7M518.3 299V327.7M520.3 299V327.7M522.4 299V327.7M524.4 299V327.7" stroke="#1c1c1c" stroke-width="1.45" fill="none" clip-path="url(#c13)"/></g>
<path d="M189.8 243.5 L796.2 331.7 L784.9 340.5 L201.5 255.2Z" fill="#fff" stroke="none" stroke-width="0" />
<path d="M-184 636.1L789.1 -407.4M-177.8 642L795.3 -401.5M-171.5 647.8L801.6 -395.7M-165.3 653.6L807.8 -389.9M-159 659.4L814.1 -384.1M-152.8 665.3L820.3 -378.2M-146.5 671.1L826.6 -372.4M-140.2 676.9L832.8 -366.6M-134 682.8L839.1 -360.7M-127.7 688.6L845.3 -354.9M-121.5 694.4L851.6 -349.1M-115.2 700.3L857.8 -343.2M-109 706.1L864.1 -337.4M-102.7 711.9L870.3 -331.6M-96.5 717.8L876.6 -325.7M-90.2 723.6L882.9 -319.9M-84 729.4L889.1 -314.1M-77.7 735.2L895.4 -308.2M-71.5 741.1L901.6 -302.4M-65.2 746.9L907.9 -296.6M-59 752.7L914.1 -290.8M-52.7 758.6L920.4 -284.9M-46.5 764.4L926.6 -279.1M-40.2 770.2L932.9 -273.3M-33.9 776.1L939.1 -267.4M-27.7 781.9L945.4 -261.6M-21.4 787.7L951.6 -255.8M-15.2 793.6L957.9 -249.9M-8.9 799.4L964.1 -244.1M-2.7 805.2L970.4 -238.3M3.6 811.1L976.6 -232.4M9.8 816.9L982.9 -226.6M16.1 822.7L989.2 -220.8M22.3 828.5L995.4 -214.9M28.6 834.4L1001.7 -209.1M34.8 840.2L1007.9 -203.3M41.1 846L1014.2 -197.5M47.3 851.9L1020.4 -191.6M53.6 857.7L1026.7 -185.8M59.9 863.5L1032.9 -180M66.1 869.4L1039.2 -174.1M72.4 875.2L1045.4 -168.3M78.6 881L1051.7 -162.5M84.9 886.9L1057.9 -156.6M91.1 892.7L1064.2 -150.8M97.4 898.5L1070.4 -145M103.6 904.4L1076.7 -139.1M109.9 910.2L1083 -133.3M116.1 916L1089.2 -127.5M122.4 921.8L1095.5 -121.7M128.6 927.7L1101.7 -115.8M134.9 933.5L1108 -110M141.1 939.3L1114.2 -104.2M147.4 945.2L1120.5 -98.3M153.6 951L1126.7 -92.5M159.9 956.8L1133 -86.7M166.2 962.7L1139.2 -80.8M172.4 968.5L1145.5 -75M178.7 974.3L1151.7 -69.2M184.9 980.2L1158 -63.3M191.2 986L1164.2 -57.5" stroke="#262626" stroke-width="1.4" fill="none" clip-path="url(#c14)"/>
<path d="M189.8 243.5 L796.2 331.7" fill="none" stroke="#262626" stroke-width="1.4" />
<path d="M201.5 255.2 L784.9 340.5" fill="none" stroke="#262626" stroke-width="1.4" />
<path d="M471.6 322 L471.6 578 L471.6 578 L471.7 579.3 L472.1 580.5 L472.7 581.7 L473.5 582.9 L474.6 584 L475.8 585.1 L477.3 586 L478.9 586.9 L480.7 587.7 L482.6 588.4 L484.7 589 L486.8 589.4 L489.1 589.7 L491.3 589.9 L493.7 590 L496 589.9 L498.2 589.7 L500.5 589.4 L502.6 589 L504.7 588.4 L506.6 587.7 L508.4 586.9 L510 586 L511.5 585.1 L512.7 584 L513.8 582.9 L514.6 581.7 L515.2 580.5 L515.6 579.3 L515.7 578 L515.7 322 L512.8 323.1 L510.5 323.9 L508.1 324.6 L505.6 325.2 L503 325.8 L500.3 326.2 L497.6 326.5 L494.8 326.6 L492 326.7 L489.2 326.6 L486.4 326.5 L483.7 326.2 L481 325.8 L478.4 325.2 L475.9 324.6 L473.5 323.9 L471.2 323.1" fill="#fff" stroke="#262626" stroke-width="1.4" />
<path d="M471.6 323.5 L471.6 578" fill="none" stroke="#262626" stroke-width="1.4" />
<path d="M471.6 183.7 L471.6 297.5 L471.6 297.5 L471.7 298.7 L472.1 299.9 L472.7 301.1 L473.5 302.2 L474.6 303.3 L475.8 304.3 L477.3 305.3 L478.9 306.1 L480.7 306.9 L482.6 307.5 L484.7 308.1 L486.8 308.5 L489.1 308.8 L491.3 309 L493.7 309.1 L496 309 L498.2 308.8 L500.5 308.5 L502.6 308.1 L504.7 307.5 L506.6 306.9 L508.4 306.1 L510 305.3 L511.5 304.3 L512.7 303.3 L513.8 302.2 L514.6 301.1 L515.2 299.9 L515.6 298.7 L515.7 297.5 L515.7 183.7" fill="#fff" stroke="#262626" stroke-width="1.4" />
<ellipse cx="493.7" cy="183.7" rx="22.1" ry="12" fill="#fff" stroke="#262626" stroke-width="1.4" />
<path d="M326.5 339.3 L343.4 324.2 L341.8 322.4 L324.9 337.5Z" fill="#c4c4c4" stroke="#262626" stroke-width="1.2" />
<path d="M326.5 359.5 L343.4 344.4 L341.8 342.6 L324.9 357.7Z" fill="#c4c4c4" stroke="#262626" stroke-width="1.2" />
<path d="M326.5 379.7 L343.4 364.6 L341.8 362.8 L324.9 377.9Z" fill="#c4c4c4" stroke="#262626" stroke-width="1.2" />
<path d="M326.5 399.9 L343.4 384.8 L341.8 383 L324.9 398.1Z" fill="#c4c4c4" stroke="#262626" stroke-width="1.2" />
<path d="M326.5 420.1 L343.4 405 L341.8 403.2 L324.9 418.3Z" fill="#c4c4c4" stroke="#262626" stroke-width="1.2" />
<path d="M326.5 440.3 L343.4 425.2 L341.8 423.4 L324.9 438.5Z" fill="#c4c4c4" stroke="#262626" stroke-width="1.2" />
<path d="M326.5 460.5 L343.4 445.4 L341.8 443.6 L324.9 458.7Z" fill="#c4c4c4" stroke="#262626" stroke-width="1.2" />
<path d="M326.5 480.7 L343.4 465.6 L341.8 463.8 L324.9 478.9Z" fill="#c4c4c4" stroke="#262626" stroke-width="1.2" />
<path d="M326.5 500.9 L343.4 485.8 L341.8 484 L324.9 499.1Z" fill="#c4c4c4" stroke="#262626" stroke-width="1.2" />
<path d="M338.3 307.8 L338.3 506 L338.3 506 L338.6 506.8 L339.5 507.5 L340.9 508.1 L342.7 508.5 L344.6 508.6 L346.6 508.5 L348.4 508.1 L349.8 507.5 L350.7 506.8 L351 506 L351 314.2" fill="#fff" stroke="#262626" stroke-width="1.4" />
<path d="M351.8 335.5 L364.8 324.1 L363.2 322.3 L350.2 333.7Z" fill="#c4c4c4" stroke="#262626" stroke-width="1.2" />
<path d="M351.8 355.7 L364.8 344.3 L363.2 342.5 L350.2 353.9Z" fill="#c4c4c4" stroke="#262626" stroke-width="1.2" />
<path d="M351.8 375.9 L364.8 364.5 L363.2 362.7 L350.2 374.1Z" fill="#c4c4c4" stroke="#262626" stroke-width="1.2" />
<path d="M351.8 396.1 L364.8 384.7 L363.2 382.9 L350.2 394.3Z" fill="#c4c4c4" stroke="#262626" stroke-width="1.2" />
<path d="M351.8 416.3 L364.8 404.9 L363.2 403.1 L350.2 414.5Z" fill="#c4c4c4" stroke="#262626" stroke-width="1.2" />
<path d="M351.8 436.5 L364.8 425.1 L363.2 423.3 L350.2 434.7Z" fill="#c4c4c4" stroke="#262626" stroke-width="1.2" />
<path d="M351.8 456.7 L364.8 445.3 L363.2 443.5 L350.2 454.9Z" fill="#c4c4c4" stroke="#262626" stroke-width="1.2" />
<path d="M351.8 476.9 L364.8 465.5 L363.2 463.7 L350.2 475.1Z" fill="#c4c4c4" stroke="#262626" stroke-width="1.2" />
<path d="M351.8 497.1 L364.8 485.7 L363.2 483.9 L350.2 495.3Z" fill="#c4c4c4" stroke="#262626" stroke-width="1.2" />
<path d="M351 314.2L351 506" stroke="#262626" stroke-width="1.4" fill="none" />
<path d="M340.3 535.7 L341.4 538 L344.6 539 L347.8 538 L348.9 535.7 L349.9 532.4 L349.9 506 L339.3 506 L339.3 532.4Z" fill="#fff" stroke="#262626" stroke-width="1" />
<path d="M340.3 535.4 L344.6 534.5 L348.9 535.4" fill="none" stroke="#262626" stroke-width="0.8" />
<path d="M339.6 532.9 L344.6 531.9 L349.6 532.9" fill="none" stroke="#262626" stroke-width="0.8" />
<path d="M339 530.1 L343.5 531.1 L346.5 529.1 L345.4 525.8 L342.7 524.5 L340.6 525.5 L339 527.1Z" fill="#1d1d1d" stroke="#262626" stroke-width="0.6" />
<path d="M347 528.1 L350.2 527.1 L350.2 517.2 L347.5 518.5 L348.6 522.5Z" fill="#1d1d1d" stroke="#262626" stroke-width="0.6" />
<path d="M339 519.9 L341.7 519.2 L343 516.6 L347.2 517.2 L348.3 513.9 L345.1 511.6 L340.9 511.9 L339.3 514.6Z" fill="#1d1d1d" stroke="#262626" stroke-width="0.6" />
<path d="M341.2 510 L348 510 L346.2 507.5 L343 507.5Z" fill="#1d1d1d" stroke="#262626" stroke-width="0.6" />
<path d="M338.8 523.8 L340.4 524.1 L340.4 520.9 L338.8 521.2Z" fill="#1d1d1d" stroke="#262626" stroke-width="0.4" />
<path d="M349.1 515.9 L350.4 515.6 L350.4 512.9 L349.1 513.3Z" fill="#1d1d1d" stroke="#262626" stroke-width="0.4" />
<path d="M535 377 L567.7 386.4 L568.3 384 L535.6 374.6Z" fill="#c4c4c4" stroke="#262626" stroke-width="1.2" />
<path d="M535 397.5 L567.7 406.9 L568.3 404.5 L535.6 395.1Z" fill="#c4c4c4" stroke="#262626" stroke-width="1.2" />
<path d="M535 418 L567.7 427.4 L568.3 425 L535.6 415.6Z" fill="#c4c4c4" stroke="#262626" stroke-width="1.2" />
<path d="M535 438.5 L567.7 447.9 L568.3 445.5 L535.6 436.1Z" fill="#c4c4c4" stroke="#262626" stroke-width="1.2" />
<path d="M566 370.2 L566 469.5 L566 469.5 L566.3 470.3 L567.1 471 L568.4 471.6 L570.1 472 L571.9 472.1 L573.7 472 L575.4 471.6 L576.7 471 L577.5 470.3 L577.8 469.5 L577.8 371.4" fill="#fff" stroke="#262626" stroke-width="1.4" />
<path d="M577.2 388.3 L606.7 397.2 L607.5 394.8 L578 385.9Z" fill="#c4c4c4" stroke="#262626" stroke-width="1.2" />
<path d="M577.2 408.8 L606.7 417.7 L607.5 415.3 L578 406.4Z" fill="#c4c4c4" stroke="#262626" stroke-width="1.2" />
<path d="M577.2 429.3 L606.7 438.2 L607.5 435.8 L578 426.9Z" fill="#c4c4c4" stroke="#262626" stroke-width="1.2" />
<path d="M577.2 449.8 L606.7 458.7 L607.5 456.3 L578 447.4Z" fill="#c4c4c4" stroke="#262626" stroke-width="1.2" />
<path d="M589.6 371.2 L606.6 376.4 L607.4 374 L590.4 368.8Z" fill="#c4c4c4" stroke="#262626" stroke-width="1.2" />
<path d="M577.8 372L577.8 469" stroke="#262626" stroke-width="1.4" fill="none" />
<path d="M567.6 501.1 L568.7 503.5 L571.9 504.5 L575.1 503.5 L576.2 501.1 L577.2 497.6 L577.2 470 L566.6 470 L566.6 497.6Z" fill="#fff" stroke="#262626" stroke-width="1" />
<path d="M567.6 500.7 L571.9 499.8 L576.2 500.7" fill="none" stroke="#262626" stroke-width="0.8" />
<path d="M566.9 498.1 L571.9 497.1 L576.9 498.1" fill="none" stroke="#262626" stroke-width="0.8" />
<path d="M566.3 495.2 L570.8 496.2 L573.8 494.1 L572.7 490.7 L570 489.3 L567.9 490.4 L566.3 492.1Z" fill="#1d1d1d" stroke="#262626" stroke-width="0.6" />
<path d="M574.3 493.1 L577.5 492.1 L577.5 481.7 L574.8 483.1 L575.9 487.2Z" fill="#1d1d1d" stroke="#262626" stroke-width="0.6" />
<path d="M566.3 484.5 L569 483.8 L570.3 481 L574.5 481.7 L575.6 478.3 L572.4 475.9 L568.2 476.2 L566.6 479Z" fill="#1d1d1d" stroke="#262626" stroke-width="0.6" />
<path d="M568.5 474.1 L575.3 474.1 L573.5 471.6 L570.3 471.6Z" fill="#1d1d1d" stroke="#262626" stroke-width="0.6" />
<path d="M566.1 488.6 L567.7 489 L567.7 485.5 L566.1 485.9Z" fill="#1d1d1d" stroke="#262626" stroke-width="0.4" />
<path d="M576.4 480.4 L577.7 480 L577.7 477.2 L576.4 477.6Z" fill="#1d1d1d" stroke="#262626" stroke-width="0.4" />
<path d="M378.5 429.6 L410.7 438.2 L411.3 435.8 L379.1 427.2Z" fill="#c4c4c4" stroke="#262626" stroke-width="1.2" />
<path d="M378.5 449.9 L410.7 458.5 L411.3 456 L379.1 447.4Z" fill="#c4c4c4" stroke="#262626" stroke-width="1.2" />
<path d="M378.5 470.1 L410.7 478.7 L411.3 476.3 L379.1 467.7Z" fill="#c4c4c4" stroke="#262626" stroke-width="1.2" />
<path d="M378.5 490.4 L410.7 499 L411.3 496.5 L379.1 487.9Z" fill="#c4c4c4" stroke="#262626" stroke-width="1.2" />
<path d="M378.5 510.6 L410.7 519.2 L411.3 516.8 L379.1 508.2Z" fill="#c4c4c4" stroke="#262626" stroke-width="1.2" />
<path d="M378.5 530.9 L410.7 539.5 L411.3 537 L379.1 528.4Z" fill="#c4c4c4" stroke="#262626" stroke-width="1.2" />
<path d="M378.5 551.1 L410.7 559.7 L411.3 557.3 L379.1 548.7Z" fill="#c4c4c4" stroke="#262626" stroke-width="1.2" />
<path d="M378.5 571.4 L410.7 580 L411.3 577.5 L379.1 568.9Z" fill="#c4c4c4" stroke="#262626" stroke-width="1.2" />
<path d="M378.5 591.6 L410.7 600.2 L411.3 597.8 L379.1 589.2Z" fill="#c4c4c4" stroke="#262626" stroke-width="1.2" />
<path d="M409.1 420 L409.1 621.5 L409.1 621.5 L409.4 622.3 L410.2 623 L411.4 623.6 L413 624 L414.8 624.1 L416.5 624 L418.1 623.6 L419.3 623 L420.1 622.3 L420.4 621.5 L420.4 420" fill="#fff" stroke="#262626" stroke-width="1.4" />
<path d="M420.1 440.7 L450.3 449 L450.9 446.6 L420.7 438.3Z" fill="#c4c4c4" stroke="#262626" stroke-width="1.2" />
<path d="M420.1 461 L450.3 469.3 L450.9 466.8 L420.7 458.5Z" fill="#c4c4c4" stroke="#262626" stroke-width="1.2" />
<path d="M420.1 481.2 L450.3 489.5 L450.9 487.1 L420.7 478.8Z" fill="#c4c4c4" stroke="#262626" stroke-width="1.2" />
<path d="M420.1 501.5 L450.3 509.8 L450.9 507.3 L420.7 499Z" fill="#c4c4c4" stroke="#262626" stroke-width="1.2" />
<path d="M420.1 521.7 L450.3 530 L450.9 527.6 L420.7 519.3Z" fill="#c4c4c4" stroke="#262626" stroke-width="1.2" />
<path d="M420.1 542 L450.3 550.3 L450.9 547.8 L420.7 539.5Z" fill="#c4c4c4" stroke="#262626" stroke-width="1.2" />
<path d="M420.1 562.2 L450.3 570.5 L450.9 568.1 L420.7 559.8Z" fill="#c4c4c4" stroke="#262626" stroke-width="1.2" />
<path d="M420.1 582.5 L450.3 590.8 L450.9 588.3 L420.7 580Z" fill="#c4c4c4" stroke="#262626" stroke-width="1.2" />
<path d="M420.1 602.7 L450.3 611 L450.9 608.6 L420.7 600.3Z" fill="#c4c4c4" stroke="#262626" stroke-width="1.2" />
<path d="M420.4 422L420.4 621" stroke="#262626" stroke-width="1.4" fill="none" />
<path d="M410.4 386 L411.5 383.2 L414.7 382 L417.9 383.2 L419 386 L420 390 L420 421.8 L409.4 421.8 L409.4 390Z" fill="#fff" stroke="#262626" stroke-width="1" />
<path d="M410.4 386.4 L414.7 387.4 L419 386.4" fill="none" stroke="#262626" stroke-width="0.8" />
<path d="M409.7 389.4 L414.7 390.6 L419.7 389.4" fill="none" stroke="#262626" stroke-width="0.8" />
<path d="M409.1 392.7 L413.6 391.6 L416.6 393.9 L415.5 397.9 L412.8 399.5 L410.7 398.3 L409.1 396.3Z" fill="#1d1d1d" stroke="#262626" stroke-width="0.6" />
<path d="M417.1 395.1 L420.3 396.3 L420.3 408.3 L417.6 406.7 L418.7 401.9Z" fill="#1d1d1d" stroke="#262626" stroke-width="0.6" />
<path d="M409.1 405.1 L411.8 405.9 L413.1 409.1 L417.3 408.3 L418.4 412.2 L415.2 415 L411 414.6 L409.4 411.5Z" fill="#1d1d1d" stroke="#262626" stroke-width="0.6" />
<path d="M411.3 417 L418.1 417 L416.3 420 L413.1 420Z" fill="#1d1d1d" stroke="#262626" stroke-width="0.6" />
<path d="M408.9 400.3 L410.5 399.9 L410.5 403.9 L408.9 403.5Z" fill="#1d1d1d" stroke="#262626" stroke-width="0.4" />
<path d="M419.2 409.9 L420.5 410.3 L420.5 413.4 L419.2 413Z" fill="#1d1d1d" stroke="#262626" stroke-width="0.4" />
<path d="M410.4 653.6 L411.5 656 L414.7 657 L417.9 656 L419 653.6 L420 650.2 L420 623 L409.4 623 L409.4 650.2Z" fill="#fff" stroke="#262626" stroke-width="1" />
<path d="M410.4 653.3 L414.7 652.4 L419 653.3" fill="none" stroke="#262626" stroke-width="0.8" />
<path d="M409.7 650.7 L414.7 649.7 L419.7 650.7" fill="none" stroke="#262626" stroke-width="0.8" />
<path d="M409.1 647.8 L413.6 648.8 L416.6 646.8 L415.5 643.4 L412.8 642 L410.7 643.1 L409.1 644.8Z" fill="#1d1d1d" stroke="#262626" stroke-width="0.6" />
<path d="M417.1 645.8 L420.3 644.8 L420.3 634.6 L417.6 635.9 L418.7 640Z" fill="#1d1d1d" stroke="#262626" stroke-width="0.6" />
<path d="M409.1 637.3 L411.8 636.6 L413.1 633.9 L417.3 634.6 L418.4 631.2 L415.2 628.8 L411 629.1 L409.4 631.8Z" fill="#1d1d1d" stroke="#262626" stroke-width="0.6" />
<path d="M411.3 627.1 L418.1 627.1 L416.3 624.5 L413.1 624.5Z" fill="#1d1d1d" stroke="#262626" stroke-width="0.6" />
<path d="M408.9 641.4 L410.5 641.7 L410.5 638.3 L408.9 638.6Z" fill="#1d1d1d" stroke="#262626" stroke-width="0.4" />
<path d="M419.2 633.2 L420.5 632.9 L420.5 630.1 L419.2 630.5Z" fill="#1d1d1d" stroke="#262626" stroke-width="0.4" />
<path d="M623.5 420.3 L640.2 405.7 L638.6 403.9 L621.9 418.5Z" fill="#c4c4c4" stroke="#262626" stroke-width="1.2" />
<path d="M623.5 440.6 L640.2 426 L638.6 424.2 L621.9 438.8Z" fill="#c4c4c4" stroke="#262626" stroke-width="1.2" />
<path d="M623.5 460.9 L640.2 446.3 L638.6 444.5 L621.9 459.1Z" fill="#c4c4c4" stroke="#262626" stroke-width="1.2" />
<path d="M623.5 481.2 L640.2 466.6 L638.6 464.8 L621.9 479.4Z" fill="#c4c4c4" stroke="#262626" stroke-width="1.2" />
<path d="M623.5 501.5 L640.2 486.9 L638.6 485.1 L621.9 499.7Z" fill="#c4c4c4" stroke="#262626" stroke-width="1.2" />
<path d="M623.5 521.8 L640.2 507.2 L638.6 505.4 L621.9 520Z" fill="#c4c4c4" stroke="#262626" stroke-width="1.2" />
<path d="M623.5 542.1 L640.2 527.5 L638.6 525.7 L621.9 540.3Z" fill="#c4c4c4" stroke="#262626" stroke-width="1.2" />
<path d="M636.1 384 L636.1 583.5 L636.1 583.5 L636.4 584.3 L637.2 585 L638.4 585.6 L640 586 L641.8 586.1 L643.6 586 L645.2 585.6 L646.4 585 L647.2 584.3 L647.5 583.5 L647.5 384" fill="#fff" stroke="#262626" stroke-width="1.4" />
<path d="M648.3 394.4 L662.1 383.8 L660.5 381.8 L646.7 392.4Z" fill="#c4c4c4" stroke="#262626" stroke-width="1.2" />
<path d="M648.3 414.7 L662.1 404.1 L660.5 402.1 L646.7 412.7Z" fill="#c4c4c4" stroke="#262626" stroke-width="1.2" />
<path d="M648.3 435 L662.1 424.4 L660.5 422.4 L646.7 433Z" fill="#c4c4c4" stroke="#262626" stroke-width="1.2" />
<path d="M648.3 455.3 L662.1 444.7 L660.5 442.7 L646.7 453.3Z" fill="#c4c4c4" stroke="#262626" stroke-width="1.2" />
<path d="M648.3 475.6 L662.1 465 L660.5 463 L646.7 473.6Z" fill="#c4c4c4" stroke="#262626" stroke-width="1.2" />
<path d="M648.3 495.9 L662.1 485.3 L660.5 483.3 L646.7 493.9Z" fill="#c4c4c4" stroke="#262626" stroke-width="1.2" />
<path d="M648.3 516.2 L662.1 505.6 L660.5 503.6 L646.7 514.2Z" fill="#c4c4c4" stroke="#262626" stroke-width="1.2" />
<path d="M648.3 536.5 L662.1 525.9 L660.5 523.9 L646.7 534.5Z" fill="#c4c4c4" stroke="#262626" stroke-width="1.2" />
<path d="M648.3 556.8 L662.1 546.2 L660.5 544.2 L646.7 554.8Z" fill="#c4c4c4" stroke="#262626" stroke-width="1.2" />
<path d="M647.5 386L647.5 583" stroke="#262626" stroke-width="1.4" fill="none" />
<path d="M637.5 361.3 L638.6 359.3 L641.8 358.5 L645 359.3 L646.1 361.3 L647.1 364.1 L647.1 386.5 L636.5 386.5 L636.5 364.1Z" fill="#fff" stroke="#262626" stroke-width="1" />
<path d="M637.5 361.6 L641.8 362.3 L646.1 361.6" fill="none" stroke="#262626" stroke-width="0.8" />
<path d="M636.8 363.7 L641.8 364.5 L646.8 363.7" fill="none" stroke="#262626" stroke-width="0.8" />
<path d="M636.2 366.1 L640.7 365.2 L643.7 366.9 L642.6 369.7 L639.9 370.8 L637.8 370 L636.2 368.6Z" fill="#1d1d1d" stroke="#262626" stroke-width="0.6" />
<path d="M644.2 367.7 L647.4 368.6 L647.4 377 L644.7 375.9 L645.8 372.5Z" fill="#1d1d1d" stroke="#262626" stroke-width="0.6" />
<path d="M636.2 374.7 L638.9 375.3 L640.2 377.5 L644.4 377 L645.5 379.8 L642.3 381.7 L638.1 381.5 L636.5 379.2Z" fill="#1d1d1d" stroke="#262626" stroke-width="0.6" />
<path d="M638.4 383.1 L645.2 383.1 L643.4 385.2 L640.2 385.2Z" fill="#1d1d1d" stroke="#262626" stroke-width="0.6" />
<path d="M636 371.4 L637.6 371.1 L637.6 373.9 L636 373.6Z" fill="#1d1d1d" stroke="#262626" stroke-width="0.4" />
<path d="M646.3 378.1 L647.6 378.4 L647.6 380.6 L646.3 380.3Z" fill="#1d1d1d" stroke="#262626" stroke-width="0.4" />
<path d="M637.5 615.1 L638.6 617.5 L641.8 618.5 L645 617.5 L646.1 615.1 L647.1 611.7 L647.1 584.5 L636.5 584.5 L636.5 611.7Z" fill="#fff" stroke="#262626" stroke-width="1" />
<path d="M637.5 614.8 L641.8 613.9 L646.1 614.8" fill="none" stroke="#262626" stroke-width="0.8" />
<path d="M636.8 612.2 L641.8 611.2 L646.8 612.2" fill="none" stroke="#262626" stroke-width="0.8" />
<path d="M636.2 609.3 L640.7 610.3 L643.7 608.3 L642.6 604.9 L639.9 603.5 L637.8 604.6 L636.2 606.3Z" fill="#1d1d1d" stroke="#262626" stroke-width="0.6" />
<path d="M644.2 607.3 L647.4 606.3 L647.4 596.1 L644.7 597.4 L645.8 601.5Z" fill="#1d1d1d" stroke="#262626" stroke-width="0.6" />
<path d="M636.2 598.8 L638.9 598.1 L640.2 595.4 L644.4 596.1 L645.5 592.7 L642.3 590.3 L638.1 590.6 L636.5 593.3Z" fill="#1d1d1d" stroke="#262626" stroke-width="0.6" />
<path d="M638.4 588.6 L645.2 588.6 L643.4 586 L640.2 586Z" fill="#1d1d1d" stroke="#262626" stroke-width="0.6" />
<path d="M636 602.9 L637.6 603.2 L637.6 599.8 L636 600.1Z" fill="#1d1d1d" stroke="#262626" stroke-width="0.4" />
<path d="M646.3 594.7 L647.6 594.4 L647.6 591.6 L646.3 592Z" fill="#1d1d1d" stroke="#262626" stroke-width="0.4" />
<path d="M201.7 178 L220.6 158.4 L246 158.4 L246 178Z" fill="#fff" stroke="#262626" stroke-width="1.4" />
<path d="M201.7 178 L246 178 L246 221.4 L201.7 221.4Z" fill="#fff" stroke="#262626" stroke-width="1.4" />
<path d="M379 90.3 L390 86 L400 100 L400 135.7 L379 135.7Z" fill="#fff" stroke="#262626" stroke-width="1.4" />
<path d="M379 90.3L388.5 94" stroke="#262626" stroke-width="1.4" fill="none" />
<path d="M635.7 96.6 L659.6 104.2 L659.6 149 L640 157.5 L630 150Z" fill="#fff" stroke="#262626" stroke-width="1.4" />
<path d="M659.6 104.2L642 112" stroke="#262626" stroke-width="1.4" fill="none" />
<path d="M758 184.4 L791.1 185.7 L803.2 205.8 L803.2 249.4 L758 246.2Z" fill="#fff" stroke="#262626" stroke-width="1.4" />
<path d="M758 202 L803.2 205.8" fill="none" stroke="#262626" stroke-width="1.4" />
<path d="M242.6 161 L242.6 229 L242.9 231.5 L243.8 233.9 L245.4 236.3 L247.4 238.5 L250.1 240.6 L253.2 242.4 L256.8 244.1 L260.7 245.5 L264.9 246.6 L269.4 247.4 L274.1 247.8 L278.8 248 L283.5 247.8 L288.2 247.4 L292.7 246.6 L296.9 245.5 L300.8 244.1 L304.4 242.4 L307.5 240.6 L310.2 238.5 L312.2 236.3 L313.8 233.9 L314.7 231.5 L315 229 L315 161" fill="#fff" stroke="#262626" stroke-width="1.4" />
<ellipse cx="278.8" cy="161" rx="36.2" ry="19" fill="#fff" stroke="#262626" stroke-width="1.4" />
<path d="M271 140 L271 160 L271.3 160.8 L272 161.5 L273.2 162.1 L274.8 162.6 L276.6 162.9 L278.5 163 L280.4 162.9 L282.2 162.6 L283.8 162.1 L285 161.5 L285.7 160.8 L286 160 L286 140" fill="#fff" stroke="#262626" stroke-width="1.4" />
<ellipse cx="278.5" cy="140" rx="7.5" ry="3" fill="#fff" stroke="#262626" stroke-width="1.4" />
<path d="M385.3 100.4 L385.3 167 L385.6 169.4 L386.5 171.7 L387.9 174 L389.9 176.2 L392.3 178.2 L395.3 180 L398.6 181.6 L402.4 183 L406.4 184.2 L410.7 185.1 L415.2 185.7 L419.8 186 L424.4 186 L429 185.7 L433.5 185.1 L437.8 184.2 L441.8 183 L445.6 181.6 L448.9 180 L451.9 178.2 L454.3 176.2 L456.3 174 L457.7 171.7 L458.6 169.4 L458.9 167 L458.9 100.4" fill="#fff" stroke="#262626" stroke-width="1.4" />
<ellipse cx="422.1" cy="100.4" rx="36.8" ry="19" fill="#fff" stroke="#262626" stroke-width="1.4" />
<path d="M414.3 78.2 L414.3 101.2 L414.5 102 L415.2 102.7 L416.3 103.3 L417.8 103.8 L419.4 104.1 L421.2 104.2 L423 104.1 L424.7 103.8 L426.1 103.3 L427.2 102.7 L427.9 102 L428.1 101.2 L428.1 78.2" fill="#fff" stroke="#262626" stroke-width="1.4" />
<ellipse cx="421.2" cy="78.2" rx="6.9" ry="3" fill="#fff" stroke="#262626" stroke-width="1.4" />
<path d="M570.2 108.8 L570.2 177 L570.5 179.4 L571.5 181.8 L573 184.1 L575.1 186.3 L577.8 188.3 L581 190.2 L584.6 191.8 L588.6 193.1 L592.9 194.2 L597.5 195 L602.2 195.4 L607 195.6 L611.8 195.4 L616.5 195 L621.1 194.2 L625.4 193.1 L629.4 191.8 L633 190.2 L636.2 188.3 L638.9 186.3 L641 184.1 L642.5 181.8 L643.5 179.4 L643.8 177 L643.8 108.8" fill="#fff" stroke="#262626" stroke-width="1.4" />
<ellipse cx="607" cy="108.8" rx="36.8" ry="18.6" fill="#fff" stroke="#262626" stroke-width="1.4" />
<path d="M599.1 87 L599.1 108.7 L599.4 109.5 L600.1 110.2 L601.3 110.8 L602.8 111.3 L604.5 111.6 L606.5 111.7 L608.4 111.6 L610.1 111.3 L611.6 110.8 L612.8 110.2 L613.5 109.5 L613.8 108.7 L613.8 87" fill="#fff" stroke="#262626" stroke-width="1.4" />
<ellipse cx="606.5" cy="87" rx="7.3" ry="3" fill="#fff" stroke="#262626" stroke-width="1.4" />
<path d="M688.6 183.6 L688.6 249.7 L688.9 252.2 L689.8 254.6 L691.4 257 L693.5 259.2 L696.1 261.3 L699.2 263.1 L702.8 264.8 L706.8 266.2 L711 267.3 L715.5 268.1 L720.2 268.5 L724.9 268.7 L729.6 268.5 L734.3 268.1 L738.8 267.3 L743 266.2 L747 264.8 L750.6 263.1 L753.7 261.3 L756.3 259.2 L758.4 257 L760 254.6 L760.9 252.2 L761.2 249.7 L761.2 183.6" fill="#fff" stroke="#262626" stroke-width="1.4" />
<ellipse cx="724.9" cy="183.6" rx="36.3" ry="19" fill="#fff" stroke="#262626" stroke-width="1.4" />
<path d="M718.1 160.9 L718.1 183.1 L718.3 183.9 L719 184.6 L720.1 185.2 L721.6 185.7 L723.3 186 L725 186.1 L726.8 186 L728.5 185.7 L730 185.2 L731.1 184.6 L731.8 183.9 L732 183.1 L732 160.9" fill="#fff" stroke="#262626" stroke-width="1.4" />
<ellipse cx="725" cy="160.9" rx="6.9" ry="3" fill="#fff" stroke="#262626" stroke-width="1.4" />
<path d="M807 355.5 L808.8 354.3 L841.5 356.9 L841.5 418.2 L808.8 416.1 L807 415Z" fill="#fff" stroke="none" stroke-width="0" />
<path d="M808.8 354.3 L841.5 356.9" fill="none" stroke="#262626" stroke-width="1.4" />
<path d="M808.8 416.1 L840 418.2" fill="none" stroke="#262626" stroke-width="1.4" />
<path d="M808.8 354.3 Q798 385.5 808.8 416.1" fill="#fff" stroke="#262626" stroke-width="1.4" />
<path d="M849.5 331.6 L850 331.7 L850.7 331.7 L851.6 331.8 L852.4 332.1 L853.2 333 L853.9 334.5 L854.4 336.8 L854.9 339.8 L855.3 343.2 L855.6 347 L855.8 350.9 L856 355 L856.1 359.2 L856.1 363.5 L856 368.1 L855.9 372.9 L855.7 377.8 L855.4 383 L855.1 388.6 L854.7 394.6 L854.2 400.8 L853.7 407 L853.2 412.8 L852.6 418 L852 422.8 L851.4 427.3 L850.7 431.5 L850 435.3 L849.3 438.5 L848.6 441 L847.9 442.7 L847.1 443.6 L846.3 444 L845.5 443.9 L844.7 443.8 L844 443.6 L843.3 443.7 L842.6 443.8 L842 443.8 L841.4 443.3 L840.9 442.1 L840.4 440 L840 436.6 L839.7 432.2 L839.4 427 L839.2 421.5 L839 416.1 L838.9 411 L838.8 406.3 L838.8 401.6 L838.8 396.9 L838.8 392.3 L839 387.7 L839.2 383 L839.5 378.3 L839.9 373.4 L840.4 368.6 L841 363.8 L841.5 359.3 L842 355 L842.4 350.9 L842.9 346.8 L843.3 342.9 L843.7 339.4 L844.2 336.3 L844.8 334 L845.5 332.5 L846.4 331.7 L847.3 331.5 L848.2 331.5 L849 331.6 L849.5 331.6Z" fill="#fff" stroke="#262626" stroke-width="1.4" />
<path d="M848.2 333 L848 334 L847.6 335.1 L847.2 336.6 L846.8 338.6 L846.4 341.4 L846 345 L845.7 349.8 L845.4 355.8 L845.1 362.4 L844.9 369.4 L844.6 376.4 L844.4 383 L844.2 389.5 L843.9 396.2 L843.6 402.9 L843.4 409.3 L843.3 415.1 L843.2 420 L843.2 424 L843.3 427.2 L843.5 429.9 L843.7 432.1 L843.9 434.1 L844.2 436 L844.5 437.7 L844.9 439.1 L845.4 440.2 L845.8 441.2 L846.1 441.9 L846.4 442.5" fill="none" stroke="#262626" stroke-width="1" />
<g transform="rotate(3.2 849.8 387.5)">
<ellipse cx="849.8" cy="387.5" rx="3.1" ry="46" fill="none" stroke="#262626" stroke-width="0.8" />
<ellipse cx="849.9" cy="387.5" rx="2.1" ry="23" fill="none" stroke="#262626" stroke-width="1.3" />
<ellipse cx="850.2" cy="387.5" rx="0.9" ry="19.5" fill="none" stroke="#262626" stroke-width="0.7" />
<ellipse cx="850.2" cy="343" rx="1.2" ry="4.6" fill="#fff" stroke="#262626" stroke-width="0.9" />
<ellipse cx="850.2" cy="361.5" rx="1.2" ry="4.6" fill="#fff" stroke="#262626" stroke-width="0.9" />
<ellipse cx="850.2" cy="413" rx="1.2" ry="4.6" fill="#fff" stroke="#262626" stroke-width="0.9" />
<ellipse cx="850.2" cy="431.5" rx="1.2" ry="4.6" fill="#fff" stroke="#262626" stroke-width="0.9" />
</g>
<path d="M659.5 931 L659.5 934.6 L659.6 936.3 L659.9 938 L660.5 939.7 L661.2 941.3 L662.2 942.9 L663.3 944.5 L664.7 946.1 L666.2 947.6 L667.9 949.1 L669.9 950.5 L671.9 951.8 L674.2 953.1 L676.6 954.3 L679.2 955.4 L681.8 956.4 L684.7 957.4 L687.6 958.3 L690.6 959 L693.7 959.7 L697 960.3 L700.2 960.8 L703.5 961.1 L706.9 961.4 L710.3 961.5 L713.7 961.6 L717.1 961.5 L720.5 961.4 L723.9 961.1 L727.2 960.8 L730.4 960.3 L733.7 959.7 L736.8 959 L739.8 958.3 L742.7 957.4 L745.6 956.4 L748.2 955.4 L750.8 954.3 L753.2 953.1 L755.5 951.8 L757.5 950.5 L759.5 949.1 L761.2 947.6 L762.7 946.1 L764.1 944.5 L765.2 942.9 L766.2 941.3 L766.9 939.7 L767.5 938 L767.8 936.3 L767.9 934.6 L767.9 931" fill="#fff" stroke="#262626" stroke-width="1.4" />
<ellipse cx="713.7" cy="931" rx="54.2" ry="27" fill="#fff" stroke="#262626" stroke-width="1.4" />
<path d="M763.1 936.1 L762.3 937.7 L761.2 939.3 L759.9 940.9 L758.5 942.4 L756.8 943.9 L754.9 945.3 L752.8 946.6 L750.5 947.8 L748.1 949 L745.5 950.1 L742.7 951.1 L739.9 952 L736.9 952.9 L733.8 953.6 L730.6 954.2 L727.3 954.7 L723.9 955.1 L720.6 955.4 L717.1 955.5 L713.7 955.6 L710.3 955.5 L706.8 955.4 L703.5 955.1 L700.1 954.7 L696.8 954.2 L693.6 953.6 L690.5 952.9 L687.5 952 L684.7 951.1 L681.9 950.1 L679.3 949 L676.9 947.8 L674.6 946.6 L672.5 945.3 L670.6 943.9 L668.9 942.4 L667.5 940.9 L666.2 939.3 L665.1 937.7 L664.3 936.1" fill="none" stroke="#262626" stroke-width="0.7" />
<ellipse cx="678.9" cy="914.4" rx="4.6" ry="2.7" fill="#fff" stroke="#262626" stroke-width="0.9" />
<path d="M675 914.9 L675.4 914.2 L676.3 913.7 L677.5 913.3 L678.9 913.2 L680.3 913.3 L681.5 913.7 L682.4 914.2 L682.8 914.9" fill="none" stroke="#262626" stroke-width="0.6" />
<ellipse cx="752" cy="918.4" rx="4.6" ry="2.7" fill="#fff" stroke="#262626" stroke-width="0.9" />
<path d="M748.1 918.9 L748.5 918.2 L749.4 917.7 L750.6 917.3 L752 917.2 L753.4 917.3 L754.6 917.7 L755.5 918.2 L755.9 918.9" fill="none" stroke="#262626" stroke-width="0.6" />
<ellipse cx="674.6" cy="937.1" rx="4.6" ry="2.7" fill="#fff" stroke="#262626" stroke-width="0.9" />
<path d="M670.7 937.6 L671.1 937 L672 936.4 L673.2 936 L674.6 935.9 L676 936 L677.2 936.4 L678.1 937 L678.5 937.6" fill="none" stroke="#262626" stroke-width="0.6" />
<ellipse cx="749" cy="940.9" rx="4.6" ry="2.7" fill="#fff" stroke="#262626" stroke-width="0.9" />
<path d="M745.1 941.4 L745.5 940.8 L746.4 940.2 L747.6 939.8 L749 939.7 L750.4 939.8 L751.6 940.2 L752.5 940.8 L752.9 941.4" fill="none" stroke="#262626" stroke-width="0.6" />
<ellipse cx="709.1" cy="949.2" rx="4.6" ry="2.7" fill="#fff" stroke="#262626" stroke-width="0.9" />
<path d="M705.2 949.7 L705.6 949.1 L706.5 948.5 L707.7 948.1 L709.1 948 L710.5 948.1 L711.7 948.5 L712.6 949.1 L713 949.7" fill="none" stroke="#262626" stroke-width="0.6" />
<path d="M682.7 887 L682.7 927.5 L682.7 927.5 L682.9 929.1 L683.4 930.7 L684.2 932.3 L685.4 933.8 L686.8 935.2 L688.6 936.6 L690.6 937.8 L692.9 938.9 L695.4 940 L698.1 940.8 L701 941.6 L704 942.1 L707.1 942.6 L710.3 942.8 L713.5 942.9 L716.8 942.8 L720 942.6 L723.1 942.1 L726.1 941.6 L729 940.8 L731.7 940 L734.2 938.9 L736.5 937.8 L738.5 936.6 L740.3 935.2 L741.7 933.8 L742.9 932.3 L743.7 930.7 L744.2 929.1 L744.4 927.5 L744.4 896.1" fill="#fff" stroke="#262626" stroke-width="1.4" />
<ellipse cx="625" cy="378.5" rx="52.5" ry="52.5" fill="none" stroke="#262626" stroke-width="1.1" />
<path d="M238.2 45.4L497.4 235.2" stroke="#262626" stroke-width="1.4" fill="none" />
<path d="M134.8 169.6L228.1 200.4" stroke="#262626" stroke-width="1.4" fill="none" />
<path d="M895.7 121.4L725.2 175.3" stroke="#262626" stroke-width="1.4" fill="none" />
<path d="M917.2 262.5L674 357.5" stroke="#262626" stroke-width="1.4" fill="none" />
<path d="M917.2 417.3L815 383.3" stroke="#262626" stroke-width="1.4" fill="none" />
<path d="M126 376.6L390.5 290.5" stroke="#262626" stroke-width="1.4" fill="none" />
<path d="M120.5 515.2L487 311.7" stroke="#262626" stroke-width="1.4" fill="none" />
<path d="M121 705L333 636.4" stroke="#262626" stroke-width="1.4" fill="none" />
<path d="M125.3 836.5L374 755.4" stroke="#262626" stroke-width="1.4" fill="none" />
<path d="M917.4 774.6L722.9 711.1" stroke="#262626" stroke-width="1.4" fill="none" />
<path d="M917.4 977.8L707.4 910.9" stroke="#262626" stroke-width="1.4" fill="none" />
<text x="158.8" y="54.2" font-size="74" textLength="69.3" lengthAdjust="spacingAndGlyphs" stroke="#fff" stroke-width="0.9">24</text>
<text x="60.5" y="189.5" font-size="74" textLength="70" lengthAdjust="spacingAndGlyphs" stroke="#fff" stroke-width="0.9">26</text>
<text x="899" y="144" font-size="74" textLength="65.5" lengthAdjust="spacingAndGlyphs" stroke="#fff" stroke-width="0.9">27</text>
<text x="927" y="281.4" font-size="74" textLength="31" lengthAdjust="spacingAndGlyphs" stroke="#fff" stroke-width="0.9">A</text>
<text x="923.5" y="446.3" font-size="74" textLength="64.2" lengthAdjust="spacingAndGlyphs" stroke="#fff" stroke-width="0.9">21</text>
<text x="42.9" y="411.2" font-size="74" textLength="70" lengthAdjust="spacingAndGlyphs" stroke="#fff" stroke-width="0.9">43</text>
<text x="42.9" y="551.3" font-size="74" textLength="70" lengthAdjust="spacingAndGlyphs" stroke="#fff" stroke-width="0.9">42</text>
<text x="42.9" y="733.2" font-size="74" textLength="71" lengthAdjust="spacingAndGlyphs" stroke="#fff" stroke-width="0.9">44</text>
<text x="3.8" y="861.7" font-size="74" textLength="102.5" lengthAdjust="spacingAndGlyphs" stroke="#fff" stroke-width="0.9">443</text>
<text x="919.6" y="802.4" font-size="74" textLength="69.2" lengthAdjust="spacingAndGlyphs" stroke="#fff" stroke-width="0.9">25</text>
<text x="920.6" y="994.2" font-size="74" textLength="69.5" lengthAdjust="spacingAndGlyphs" stroke="#fff" stroke-width="0.9">22</text></svg></body></html>
